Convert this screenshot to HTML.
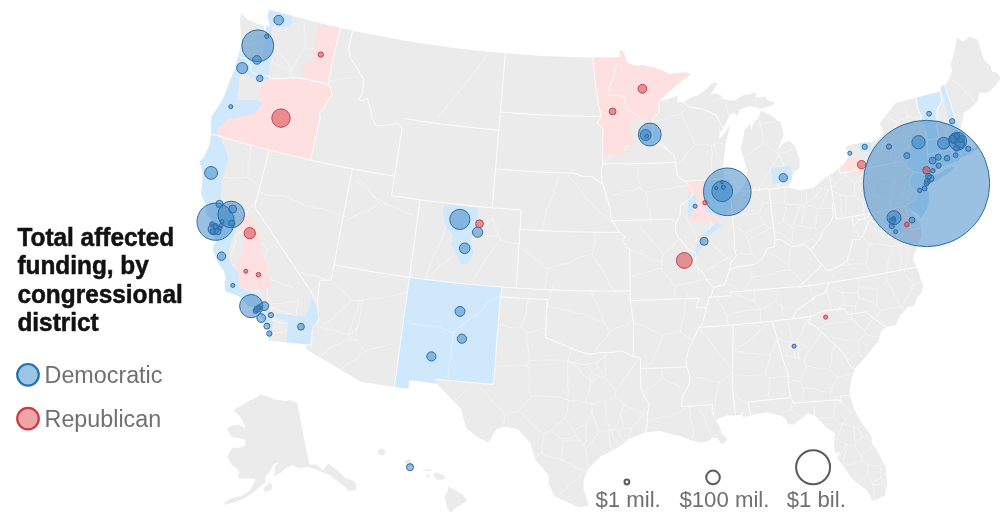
<!DOCTYPE html>
<html lang="en"><head><meta charset="utf-8"><title>Total affected funding, by congressional district</title>
<style>
html,body{margin:0;padding:0;background:#fff}
body{width:1000px;height:523px;position:relative;overflow:hidden;font-family:"Liberation Sans",Arial,Helvetica,sans-serif}
svg{position:absolute;left:0;top:0}
.t{position:absolute;left:17.4px;top:222.9px;font-weight:700;font-size:24.4px;line-height:26.4px;color:#121212;letter-spacing:0;white-space:nowrap;-webkit-text-stroke:0.5px #121212;transform:scale(1,1.075);transform-origin:0 0}
.lg{position:absolute;left:44.6px;font-size:23.3px;line-height:26px;color:#707070;white-space:nowrap}
.sc{position:absolute;font-size:22.2px;line-height:24px;color:#707070;white-space:nowrap;top:488px}
</style></head><body>
<svg width="1000" height="523" viewBox="0 0 1000 523">
<path d="M241.1,13.5 L249,20.2 L257.4,23.7 L263.7,25.5 L264.4,30.1 L264.1,36.1 L264.4,42.2 L266.6,36.8 L269.7,30.7 L269.4,24.6 L268.8,19.4 L270.8,15 L269,9.5 L278.3,12.2 L290.7,15.6 L303.2,18.8 L315.6,22 L328.2,25 L340.7,27.9 L353.3,30.7 L365.9,33.3 L378.5,35.8 L391.2,38.1 L403.9,40.4 L416.6,42.4 L429.3,44.4 L442,46.2 L454.8,47.9 L467.6,49.5 L480.4,50.9 L493.2,52.2 L506,53.3 L518.8,54.3 L531.7,55.2 L544.5,56 L557.4,56.6 L570.3,57 L583.1,57.4 L596,57.6 L608.9,57.7 L619.8,57.6 L619.8,50.3 L623.6,51.4 L625.7,59.5 L627,62.9 L637.4,65.9 L642.6,64.9 L654.4,67.9 L660.9,70 L669,74 L677.4,73 L687.2,72.4 L690.6,74.5 L683.3,79.4 L674.9,86.6 L666.4,94.4 L660.8,99.3 L662.2,100.8 L672.7,97.4 L678,95.2 L677,102 L683.7,102.2 L691.4,97.3 L698,95.3 L703,91.6 L706.8,88.4 L711.7,83.8 L715.6,82.5 L717.6,83.3 L712.4,91.8 L709.4,96.5 L712.5,93.8 L716.5,93.4 L720.6,95 L723.7,99.6 L729.1,100.1 L734,101.1 L742.4,95.4 L748.7,94.5 L755.8,92 L756.4,97.2 L761.2,97.6 L764.4,96.2 L768.3,100.6 L775.4,102.6 L771.7,106 L760.9,108.9 L750,106.1 L740.2,109.6 L736.2,116.9 L734.4,112.2 L729.8,114.6 L727,120.7 L723.5,127.8 L719.9,133 L719,139.3 L725.3,132.5 L730.7,123.6 L728.2,133.2 L726.1,141.2 L724.5,154 L722.9,168.1 L725.4,181.2 L729.1,190.8 L733.8,194.9 L739.4,192.4 L744.3,184.5 L746.9,178.3 L747.2,170.9 L744.9,162.3 L740.7,148.6 L743.6,135.6 L744.8,129.6 L750.5,123.2 L751.4,131.5 L753.8,121.8 L758.2,118.4 L761,110.6 L770.1,115 L780.7,122.4 L783.7,134.8 L777.4,150.3 L783.5,143.6 L789.4,140.5 L795.2,146.9 L799.7,160.1 L799.7,167.9 L794.6,172.6 L792.6,174.2 L792,179.8 L788.3,187.2 L800,190.6 L814.1,187.5 L823,179.2 L834.8,171.7 L844.8,162.7 L849.1,154.4 L845.7,147.5 L852.9,144 L865.7,143.7 L875.2,141 L880,136.6 L883.8,134.3 L882.4,127.6 L879.4,123.6 L885.5,116 L895.3,102.9 L915.9,97.8 L940.5,91.6 L940.6,86.8 L944.6,84.7 L947.7,81.9 L951.2,73.9 L952.1,69.6 L950.2,65.1 L952.3,60.1 L957.2,37.8 L960.4,40.1 L962.9,41.8 L969.6,36.2 L977.6,39.6 L984.2,60.5 L990.6,65.4 L992.2,71.4 L996.8,72.4 L1001.1,78.3 L994.7,86.4 L987.9,92.6 L979.4,93.1 L977.6,101.7 L969.6,109.1 L964.1,112.6 L962.1,121.3 L961,125.2 L960.6,129.3 L964.5,132.7 L960.5,139.9 L967.4,146.1 L970.4,148.9 L977.2,146.4 L973,142.1 L977.3,144.4 L978.5,148.7 L973.9,150.8 L969.6,154.2 L967.3,151.2 L964.9,155.9 L960.2,157.9 L958.9,160.3 L953.8,162.6 L950.5,163.7 L939.5,167.5 L935.8,170.4 L931.5,174.1 L928.9,179.1 L930,177.4 L938.1,173.9 L949.1,167.1 L955,167.2 L947.2,174 L936.8,180.6 L927.9,184.4 L926.2,183.4 L927.6,186.1 L929,195.2 L929.4,200.1 L926.8,208.7 L920.7,218.6 L918.1,213.7 L911.9,210.1 L909.1,207.7 L912.5,212.9 L919,221.5 L921.3,228.1 L921,237.1 L917.1,248 L913.2,256.5 L913.5,260.2 L916.6,267.1 L920.8,279.3 L923.4,285.7 L921.4,293.1 L916.2,299.2 L914.6,305.5 L907.4,307 L899.6,316.6 L895.6,325.3 L886.1,327.1 L881.2,331 L878.2,341.4 L868.7,353 L861.2,362.1 L855.2,368.4 L851.5,379.5 L849.8,389.6 L849.8,395.3 L851.5,401.1 L854.7,410.4 L861.8,423.1 L871.7,436.2 L871.9,443 L877.7,451.8 L886.1,468 L887.2,485.3 L885,495.4 L875.8,499.8 L872.4,500.8 L867.2,490.5 L857.2,483.3 L851,477.4 L846.4,470.3 L841,463.3 L836.8,458.1 L840.4,452.7 L835.1,452.5 L833.8,442.9 L835,433 L827.6,429.1 L820.6,421.3 L814.7,415.2 L806,413.7 L803.1,417.6 L793.8,424.6 L787.6,423.9 L786.5,419.6 L781,415.7 L767.2,412.3 L755.6,414.3 L750.7,415.8 L742.5,417.5 L742.6,409.3 L740.6,415.3 L735.6,415.7 L727.2,415.4 L719.9,417.8 L715.9,420.5 L717.7,422.9 L719.7,427.6 L721.8,433.3 L727.3,438.7 L725,442.7 L720.9,444 L717.9,438.4 L712,437.8 L708.8,440.9 L700.4,442.8 L688.3,439.2 L679.7,435.7 L672.9,434.4 L659.3,431 L645.1,432.6 L629.2,439.1 L619.1,446.9 L600.4,456.6 L588.2,469 L583.8,479.6 L583.6,489.2 L588.7,505.4 L579.8,507.4 L570.2,503.4 L554.7,496.2 L548.9,484.5 L548.4,474.8 L535.3,459.8 L530.1,443.1 L518.1,429.4 L503.2,426.4 L496.2,429.4 L488.5,442.8 L477.1,436.7 L466,427.9 L461,409 L444.4,391.7 L436.5,383.4 L409.3,380.1 L408.2,388.8 L361.3,382 L305.3,348.8 L307.4,344.8 L268.5,340.4 L267.8,333.8 L267.6,327.8 L264.7,322.1 L258.5,313.6 L253.8,312.5 L253.5,307 L248.8,306.3 L242.3,299 L236.8,295.2 L225.2,291.2 L224.7,282 L225.9,277.2 L223.7,270.6 L218.9,264.2 L213,250.4 L213.9,244.6 L217.2,241.4 L214.2,237.6 L210.4,231.4 L210.6,225.3 L211.8,220 L209.8,217 L206,213.8 L206.5,206.8 L200.9,193.9 L202.3,184.1 L202.9,172 L199.6,162.1 L204.6,156.2 L207,150.8 L210,143.6 L211.3,133.8 L211.3,124.6 L211.5,116.7 L218.1,107.3 L224.2,96.9 L229.4,82.3 L234.6,69.7 L238.6,56.7 L239.8,48 L240.9,42.3 L240.7,29.1 L239.6,21.7 L241.1,13.5Z" fill="#ebebeb"/>
<path d="M260.5,394.4 L268.3,397.1 L275.3,399.5 L284.7,400.7 L290.6,400.5 L297,402.4 L309.3,464.5 L316.1,464.4 L322.9,470.5 L328.1,463.5 L337.3,469.9 L345.7,477.9 L354.4,481.3 L356.9,486.8 L356.2,490.4 L352.7,489.9 L348.6,491.3 L345.3,487.4 L340.9,483.8 L335.8,479.7 L329.8,474.7 L323.8,472.7 L314.7,468.9 L308,466.8 L299.7,468.3 L292.5,465.1 L286.1,467.9 L281.4,472.3 L273.7,476.1 L274.6,472.7 L275,466.5 L279.1,462.2 L274.2,463.8 L271.1,469.4 L267.8,474.2 L265,477.6 L265.3,482.4 L258.8,487.7 L251.1,494.2 L243.2,499 L233.1,502.7 L229,503.5 L223.7,504.7 L224.9,502.2 L232.5,497.8 L241.5,496.1 L249.5,490.7 L253.5,484.1 L255.5,478.7 L250.3,478.4 L243.9,478.6 L238,478 L239.3,472.6 L237.4,469 L231.2,464.6 L227.5,457.1 L230.3,450.7 L233,447.7 L238.6,447.8 L244.9,445.9 L245.6,439.8 L239.9,438.4 L232.9,437.3 L230.2,434.8 L226.8,428.5 L231.9,425.4 L239,424.6 L244.1,428 L245.6,426.8 L243.1,422.4 L240.2,416.6 L233.9,411.1 L236.6,407.8 L243.2,404.8 L249.8,400.3 L256.9,397.5Z M271.8,485 L272.6,488.4 L268.6,491.2 L264.2,491.9 L263.9,487.8 L267.5,485.1 L269.9,482.3Z" fill="#ebebeb"/>
<path d="M448.1,486.3 L461.9,494.3 L467.4,500.6 L454.6,508.8 L451.4,512.5 L447.3,508.9 L444.5,496.3 L448.1,490.5Z M432.6,474.2 L436.2,472.2 L445.3,476 L443.5,479.5 L437.1,479.9Z M404,461.2 L409.3,458.7 L415.3,466.4 L407.1,466.4Z M376.7,451.8 L380.9,448.3 L385.4,450.9 L384.5,454.7 L380,455.1Z M421.7,470.3 L431.7,469 L429.8,471.3 L422.6,470.7Z M426.2,475.1 L429.8,474.2 L429.8,477 L427.1,477.4Z" fill="#ebebeb"/>
<path d="M409.5,277.3 L455.9,282.9 L501.7,287.1 L501,296.8 L500.3,296.8 L493.5,384.4 L435.5,379 L436.5,383.4 L409.3,380.1 L408.2,388.8 L394.3,387Z" fill="#cfe8fc"/>
<path d="M734.8,349.8 L736.4,349.4 L738.8,347.6 L746.7,343.1 L754.1,335.3 L758.0,333.0 L758.8,331.5 L762.6,329.0 L767.0,324.8 L768.5,324.3 M735.1,350.8 L741.2,351.9 L744.1,353.0 L755.0,353.4 L758.0,354.5 L765.8,354.1 L770.3,355.3 M770.3,355.3 L771.4,352.5 L772.5,351.3 L776.9,340.0 M733.7,375.0 L751.8,375.6 L754.8,375.0 L760.9,375.4 L765.4,374.3 M765.4,374.3 L765.4,372.8 L769.5,359.8 L770.3,355.3 M770.0,401.2 L768.2,392.0 L769.8,379.5 L769.5,378.0 M769.5,378.0 L772.6,378.0 L777.0,377.1 L778.5,377.3 L781.5,376.3 L783.0,377.1 L787.5,376.3 L792.0,376.6 M736.0,394.6 L740.3,399.0 L748.9,405.1 L751.0,407.3 M765.4,374.3 L769.5,378.0 M407.3,292.2 L404.4,292.6 L403.1,293.9 L401.6,294.4 L400.1,294.0 L397.2,295.4 L392.7,295.3 L391.3,296.1 L388.3,296.4 L385.4,297.4 L380.7,296.8 L379.4,298.0 L377.9,298.3 L373.5,299.1 L371.9,298.3 L363.1,300.4 M331.5,279.7 L341.6,290.7 L344.4,292.2 L348.9,298.3 L350.3,299.1 L351.1,300.4 M351.1,300.4 L354.6,301.0 L359.9,300.5 M363.1,300.4 L359.9,300.5 M393.4,343.5 L389.1,345.0 L384.6,345.4 L380.4,347.3 L377.4,347.5 L374.6,348.6 L371.5,348.5 L367.3,350.6 L364.3,350.9 M364.3,350.9 L354.3,360.0 L347.5,363.4 L341.0,369.8 M351.1,300.4 L348.0,304.0 L337.5,313.2 L335.6,315.8 L320.5,327.0 M359.9,300.5 L355.9,315.3 L354.3,316.4 L353.9,319.5 L352.2,322.2 L352.3,323.8 L350.9,326.6 L348.6,335.5 M348.6,335.5 L347.3,334.4 L344.2,334.1 L339.9,332.3 L330.9,330.1 L329.5,329.2 L324.9,328.7 L320.5,327.0 M349.0,335.9 L351.6,339.2 M349.0,335.9 L357.4,327.2 M351.6,339.2 L355.7,340.1 M357.4,327.2 L356.6,328.8 L355.7,340.1 M348.6,335.5 L349.0,335.9 M318.0,356.2 L319.0,355.0 L322.1,354.3 L324.8,353.0 L326.8,350.3 L331.7,346.7 L337.5,344.8 L342.7,341.7 L345.7,341.0 L348.2,339.2 L350.2,339.7 L351.6,339.2 M363.1,300.4 L361.0,306.2 L361.0,310.9 L360.2,313.8 L360.6,315.5 L359.7,316.8 L359.0,324.5 L357.4,327.2 M364.3,350.9 L359.1,343.3 L355.7,340.1 M632.1,319.6 L635.2,323.2 L642.7,325.2 L651.9,330.4 L653.6,330.5 L657.4,333.0 L662.9,335.3 M650.7,364.4 L653.0,360.5 L653.6,357.5 L657.1,350.8 L657.8,347.8 L659.9,343.8 L660.5,340.8 L662.9,335.3 M691.4,339.6 L683.9,334.6 L680.5,331.4 M680.5,331.4 L681.3,323.9 L684.4,313.7 L684.7,310.7 L683.9,307.6 L684.5,304.6 L686.0,301.8 L686.1,298.8 L687.2,297.4 L687.4,294.4 M662.9,335.3 L666.1,334.4 L667.8,334.6 L669.3,333.7 L675.8,332.8 L678.7,331.0 L680.5,331.4 M247.7,177.5 L243.1,177.4 L240.0,178.2 L237.0,177.7 L230.8,177.9 L224.7,177.0 M247.7,177.5 L248.1,174.4 L247.8,171.3 L248.3,169.8 L247.9,163.7 L249.7,159.2 L250.3,156.2 L249.9,151.6 L250.5,150.1 L250.4,143.9 M224.7,177.0 L221.5,173.5 L220.7,170.5 L217.3,165.4 L214.6,156.5 M226.8,137.4 L224.0,140.9 L223.2,144.1 L220.3,147.6 L217.0,152.7 L216.6,154.2 L214.6,156.5 M206.0,154.1 L214.6,156.5 M224.7,177.0 L222.0,178.7 L219.0,184.4 L214.2,188.5 L211.2,192.2 M211.2,192.2 L208.3,193.2 L206.7,193.0 L202.2,193.8 M247.7,177.5 L250.7,178.7 L252.5,181.4 L257.9,184.7 L260.2,186.9 M306.7,337.4 L298.2,328.4 M298.2,328.4 L296.8,324.6 M296.8,324.6 L297.2,320.9 L296.7,317.4 M299.0,297.1 L298.5,300.5 M298.5,300.5 L298.7,302.1 L297.0,306.6 L296.2,315.8 L296.7,317.4 M213.3,250.4 L214.7,246.1 L216.5,243.5 M210.9,231.9 L212.7,234.4 M263.1,262.6 L263.8,259.5 L268.4,249.6 M263.1,262.6 L261.5,262.7 L256.9,264.4 L253.8,264.8 L250.6,264.1 L247.5,264.4 L242.7,263.8 L230.3,265.5 M268.4,249.6 L266.8,249.0 L260.5,241.9 L254.5,236.8 L250.4,234.4 L245.9,229.9 M230.3,265.5 L231.3,259.4 L230.8,257.8 L232.0,254.9 L231.7,253.3 L232.6,248.8 L235.7,241.5 L235.6,235.3 M235.6,235.3 L238.4,233.4 L245.9,229.9 M279.1,241.2 L273.2,245.9 L270.4,247.2 L268.4,249.6 M268.7,277.5 L268.1,277.0 M268.7,277.5 L273.9,281.0 L277.0,281.4 L285.2,285.4 L289.8,286.3 L294.0,287.9 M268.1,277.0 L266.0,269.6 L263.1,262.6 M223.7,269.6 L227.4,266.7 L230.3,265.5 M240.6,297.0 L243.2,295.1 L246.3,294.8 M253.1,289.8 L246.3,294.8 M253.1,289.8 L257.2,285.3 L264.0,281.5 L268.1,277.0 M217.3,240.6 L222.3,237.0 M235.6,235.3 L233.9,235.2 L227.3,236.7 L222.3,237.0 M268.2,334.7 L269.5,335.8 M268.0,328.0 L268.7,329.6 L272.1,333.3 M269.5,335.8 L272.1,333.3 M268.6,338.7 L269.4,337.4 L269.5,335.8 M298.2,328.4 L296.6,328.4 L292.2,330.0 L287.4,330.1 L280.0,332.9 L276.7,332.4 L272.1,333.3 M268.7,277.5 L268.9,283.9 L267.3,288.5 L267.6,290.1 L267.1,293.3 L267.8,298.1 M253.1,289.8 L259.2,298.8 L260.5,301.7 M267.8,298.1 L264.8,299.2 L263.8,300.6 L260.9,301.8 M298.5,300.5 L293.9,301.7 L290.7,301.7 L284.5,303.4 L271.8,303.6 M296.7,317.4 L291.3,314.0 L288.1,313.6 L277.9,309.6 L271.8,307.9 M271.8,303.6 L271.8,307.9 M267.8,298.1 L268.1,298.9 M271.8,303.6 L268.1,298.9 M274.1,320.3 L280.0,322.6 L289.1,324.1 L290.7,323.7 L296.8,324.6 M274.1,320.3 L272.6,313.9 L271.4,312.6 L270.7,309.4 M270.7,309.4 L271.8,307.9 M211.2,192.2 L213.3,196.3 L215.9,199.9 L218.9,203.3 L222.9,205.9 L224.4,208.6 M212.3,219.7 L213.8,219.1 L217.4,216.1 L219.1,216.0 L221.8,214.5 L222.9,213.2 M222.9,213.2 L224.4,208.6 M257.0,200.3 L254.5,202.2 L247.1,212.0 M224.4,208.6 L227.3,209.6 L233.4,210.3 L237.8,211.9 L242.6,211.2 L247.1,212.0 M245.9,229.9 L245.6,225.3 L246.0,222.3 M247.1,212.0 L247.3,215.5 L246.5,217.2 L246.0,222.3 M221.1,226.1 L216.4,224.2 M221.1,226.1 L220.9,228.1 L219.9,229.8 M219.9,229.8 L218.3,229.1 L213.0,228.7 M213.0,228.7 L213.9,225.4 L215.2,224.2 M215.2,224.2 L216.4,224.2 M235.6,235.3 L231.2,230.6 L227.2,227.7 L224.3,223.8 M224.3,223.8 L221.1,226.1 M222.3,237.0 L221.4,232.5 L219.9,229.8 M211.6,229.7 L213.0,228.7 M212.3,219.7 L215.2,224.2 M222.9,213.2 L222.9,214.5 M222.9,214.5 L222.5,216.2 L219.9,218.5 L216.4,224.2 M257.8,313.2 L259.1,313.0 M259.1,313.0 L261.0,313.6 L262.5,314.9 M262.5,314.9 L261.6,316.3 L261.8,318.0 M265.1,322.6 L266.5,323.2 M274.1,320.3 L270.6,320.9 M270.6,320.9 L268.8,321.0 L266.5,323.2 M224.4,222.9 L231.1,222.7 L232.7,222.0 L234.4,222.0 M224.4,222.9 L223.8,221.4 L224.0,219.8 M224.0,219.8 L227.1,219.6 L230.1,220.2 L234.4,222.0 M224.3,223.8 L224.4,222.9 M246.0,222.3 L239.4,222.5 L234.4,222.0 M222.9,214.5 L224.0,219.8 M262.5,314.9 L264.4,313.5 M259.1,313.0 L261.0,310.7 M261.0,310.7 L264.4,313.5 M270.6,320.9 L265.7,313.1 M265.7,313.1 L264.4,313.5 M257.8,313.2 L257.2,311.7 M257.2,311.7 L255.3,309.8 M254.2,306.5 L254.6,304.9 M246.3,294.8 L251.3,299.3 M254.6,304.9 L251.3,299.3 M260.5,301.7 L257.0,301.5 M251.3,299.3 L257.0,301.5 M264.2,309.6 L266.4,311.1 M264.2,309.6 L263.6,306.2 M265.0,305.1 L267.9,310.1 M265.0,305.1 L263.6,306.2 M267.9,310.1 L266.4,311.1 M261.0,310.7 L261.2,309.7 M261.2,309.7 L264.2,309.6 M265.7,313.1 L266.4,311.1 M268.1,298.9 L265.0,305.1 M270.7,309.4 L267.9,310.1 M262.1,306.2 L261.5,306.8 M262.1,306.2 L260.6,303.3 M261.5,306.8 L258.5,305.0 M260.6,303.3 L258.5,305.0 M260.9,301.8 L260.6,303.3 M263.6,306.2 L262.1,306.2 M257.0,301.5 L258.2,305.2 M260.6,308.7 L260.9,307.6 M260.6,308.7 L259.2,308.7 M260.9,307.6 L257.9,305.5 M259.2,308.7 L257.4,307.5 M257.4,307.5 L257.2,306.0 M257.2,306.0 L257.9,305.5 M261.5,306.8 L260.9,307.6 M261.2,309.7 L260.6,308.7 M257.2,311.7 L259.2,308.7 M255.3,309.8 L257.4,307.5 M254.6,304.9 L257.2,306.0 M519.5,244.3 L518.1,243.7 L513.5,243.7 L507.8,241.6 L500.5,239.9 M500.5,239.9 L497.4,243.3 L495.9,245.9 L493.6,248.0 L490.7,253.3 L486.7,257.8 L485.2,260.5 L483.0,262.5 L478.6,272.4 L477.2,273.3 L474.6,276.9 L473.4,279.8 L471.3,282.0 M424.6,279.1 L429.0,267.7 L429.4,264.6 L432.7,259.3 L432.7,257.7 L434.5,253.4 L436.5,251.0 L437.4,248.1 L443.8,235.8 L444.4,231.1 L447.1,222.4 M451.3,204.6 L449.2,213.5 L448.8,218.1 L447.1,222.4 M447.1,222.4 L450.1,223.2 L452.6,225.1 L455.5,226.1 L457.9,228.1 L461.2,228.3 L462.3,229.6 L469.1,233.0 M491.4,214.6 L493.4,220.3 M469.1,233.0 L477.0,228.3 L480.1,227.8 L482.8,226.4 L491.7,220.4 L493.4,220.3 M500.5,239.9 L499.6,236.9 L498.4,235.8 M498.4,235.8 L498.2,234.2 L496.7,231.2 L495.4,229.9 L494.0,227.0 L494.0,223.5 L493.4,222.0 L493.4,220.3 M465.0,244.2 L472.7,239.2 L474.2,238.7 L475.9,238.8 L477.1,237.8 L478.8,237.7 L480.0,236.7 M465.0,244.2 L469.4,239.9 L471.9,236.0 M471.9,236.0 L473.5,236.6 L475.1,236.0 L480.0,236.7 M425.2,279.4 L426.7,278.7 L432.4,273.7 L439.6,265.9 L451.0,258.1 L459.9,247.6 L465.0,244.2 M498.4,235.8 L490.7,236.2 L489.1,235.5 L486.1,236.3 L484.5,235.9 L480.0,236.7 M469.1,233.0 L471.9,236.0 M939.2,166.4 L939.8,163.3 M931.1,161.0 L934.0,161.6 L936.8,162.9 L939.8,163.3 M947.5,164.5 L945.9,161.9 L945.4,158.9 M945.4,158.9 L939.8,163.3 M943.9,152.4 L944.1,155.6 L945.3,156.8 L945.6,158.3 M945.6,158.3 L950.1,158.1 L951.6,157.4 M945.4,158.9 L945.6,158.3 M790.5,410.0 L787.9,411.5 L786.1,411.5 L783.4,412.7 L781.1,414.7 M790.5,410.0 L797.4,413.4 L799.5,415.8 L802.2,417.3 M790.5,410.0 L792.1,402.5 M815.1,415.0 L814.2,410.5 L814.7,405.9 M834.5,439.5 L837.4,438.2 M838.4,459.6 L838.7,458.0 L842.5,452.8 L843.2,449.6 L844.5,448.4 L844.6,446.7 L846.2,443.9 M837.4,438.2 L842.7,442.8 L846.2,443.9 M843.3,465.1 L844.3,456.0 L847.0,447.2 L846.6,444.1 M885.4,491.3 L885.0,488.1 L883.8,485.2 M885.5,484.9 L883.8,485.2 M858.8,483.0 L864.4,477.7 L866.9,476.0 M861.9,459.8 L853.4,463.6 L848.8,464.3 L844.6,466.4 M861.9,459.8 L865.8,463.1 L867.7,466.1 M866.9,476.0 L867.2,472.7 L868.4,469.4 L867.7,466.1 M819.2,418.6 L833.5,417.3 M835.6,395.3 L835.9,396.8 L835.4,398.3 M833.5,417.3 L834.4,415.8 L833.7,412.5 L835.0,407.8 L835.4,398.3 M837.4,438.2 L841.8,425.6 L842.0,423.9 M833.5,417.3 L837.1,420.2 L838.9,422.8 L840.1,423.8 L842.0,423.9 M874.2,500.3 L873.6,494.3 L874.3,489.7 L873.4,486.7 L873.6,485.2 M883.8,485.2 L881.9,483.5 M881.9,483.5 L878.7,484.7 L875.2,484.5 L873.6,485.2 M866.9,476.0 L870.4,479.8 L872.2,482.7 M873.6,485.2 L872.2,482.7 M835.4,398.3 L838.7,401.5 L845.0,406.1 L851.0,413.3 M842.0,423.9 L843.6,423.6 M843.6,423.6 L844.6,422.3 L846.5,417.9 L849.1,415.8 L851.0,413.3 M851.0,413.3 L854.4,410.4 M861.9,459.8 L862.1,456.3 M846.6,444.1 L848.1,444.8 L851.5,444.9 L854.6,446.0 M854.6,446.0 L857.6,449.8 L858.1,451.4 L862.1,456.3 M879.6,465.4 L876.2,465.7 L871.1,465.0 L867.7,466.1 M883.4,463.0 L879.6,465.4 M862.1,456.3 L862.3,454.4 L871.3,448.0 L872.9,445.3 M880.7,468.0 L880.7,477.8 M880.7,468.0 L883.2,470.0 L884.1,473.1 L885.8,475.6 M880.7,477.8 L883.9,480.3 M885.7,479.5 L883.9,480.3 M879.6,465.4 L880.7,468.0 M872.2,482.7 L873.2,481.2 L878.1,479.7 L880.7,477.8 M881.9,483.5 L883.9,480.3 M853.9,427.5 L855.8,426.7 L857.8,427.2 M853.9,427.5 L855.4,443.5 M857.8,427.2 L859.5,430.0 L861.7,437.6 M855.4,443.5 L861.7,437.6 M843.6,423.6 L846.2,425.5 L851.0,426.2 L853.9,427.5 M863.5,425.5 L857.8,427.2 M854.6,446.0 L855.4,443.5 M871.3,436.1 L866.5,436.4 L861.7,437.6 M830.6,392.1 L822.7,391.4 L813.6,388.6 L808.8,388.3 L805.8,387.4 L804.1,387.7 M830.6,392.1 L832.0,389.3 L832.5,386.1 L835.5,382.3 L837.1,377.9 M837.1,377.9 L834.3,373.8 L832.8,372.9 L829.3,369.4 M829.3,369.4 L824.7,368.7 L820.0,369.1 L811.0,366.6 L806.4,366.2 M806.4,366.2 L804.9,369.1 L804.3,372.5 L802.5,375.3 L801.0,380.0 L799.8,381.3 M799.8,381.3 L801.6,383.8 L802.0,385.4 L804.1,387.7 M802.1,401.1 L802.8,399.7 L802.6,398.1 L803.1,396.7 L802.7,395.1 L804.1,387.7 M830.9,399.6 L830.7,396.6 L830.1,395.2 L830.6,392.1 M853.1,373.8 L851.6,373.7 L847.2,374.6 L845.8,375.5 L838.4,376.8 L837.1,377.9 M789.4,382.5 L793.6,380.4 L796.8,381.4 L799.8,381.3 M792.1,341.3 L794.3,342.3 M792.1,341.3 L789.3,342.6 M794.3,342.3 L794.1,345.6 L793.3,347.3 L794.1,348.9 L794.6,357.2 M789.3,342.6 L789.5,344.2 L788.7,348.7 L786.6,354.5 L786.7,356.1 M794.6,357.2 L793.1,356.8 L791.4,357.1 L788.3,356.0 L786.7,356.1 M778.0,338.4 L782.4,339.7 L785.0,341.1 L788.1,341.5 L789.3,342.6 M788.7,323.6 L788.6,325.1 L789.5,326.5 L789.3,328.0 L790.6,330.8 L790.3,332.4 L791.3,335.3 L791.2,338.4 L792.0,339.7 L792.1,341.3 M783.7,355.8 L786.7,356.1 M794.3,342.3 L796.9,341.0 M796.9,341.0 L798.2,338.3 L801.7,333.4 L805.4,323.3 L809.0,318.4 M829.3,369.4 L831.7,362.1 L831.8,354.4 L834.6,345.6 L834.9,344.1 L834.1,340.9 M809.5,350.4 L807.5,347.8 L804.6,346.4 L799.5,342.6 L797.9,342.1 M809.5,350.4 L809.3,351.9 L806.9,354.1 L804.9,358.2 L804.4,361.3 M797.9,342.1 L798.9,349.7 L798.3,354.3 L799.0,358.9 M804.4,361.3 L799.0,358.9 M796.9,341.0 L797.9,342.1 M822.1,331.5 L817.7,339.5 L813.3,345.6 L813.0,347.2 L809.5,350.4 M806.4,366.2 L805.2,364.8 L804.4,361.3 M794.6,357.2 L797.7,357.8 L799.0,358.9 M352.5,77.3 L348.2,78.5 L346.5,77.9 L345.0,78.0 L342.2,79.3 L333.3,80.5 L329.1,82.6 L326.1,83.1 L323.0,82.5 L321.5,83.0 M731.3,259.7 L728.5,258.3 M728.5,258.3 L722.8,260.4 L718.9,262.8 L715.5,265.8 L711.2,267.3 L708.8,269.3 L706.0,270.3 M725.0,181.3 L724.0,185.7 M727.4,187.1 L727.6,188.8 M724.0,185.7 L724.5,188.1 M727.6,188.8 L724.7,188.3 M724.5,188.1 L721.9,189.7 L720.9,191.0 L714.2,194.8 L711.3,195.8 L707.6,198.6 L706.0,198.8 M724.0,185.7 L719.5,186.9 L713.8,189.8 L712.2,189.8 L709.3,191.0 L702.9,191.2 M706.0,198.8 L702.9,191.2 M702.9,191.2 L699.7,182.8 M724.8,189.0 L725.8,191.1 M724.7,188.3 L724.8,189.0 M725.8,191.1 L728.4,192.3 M710.6,204.5 L708.3,202.3 L706.9,201.7 M710.6,204.5 L716.4,209.9 M706.9,201.7 L701.4,204.7 L699.2,206.9 L697.5,207.1 L693.5,209.5 L685.8,217.2 M716.4,209.9 L715.0,214.3 L713.2,217.1 L707.4,235.0 L707.1,238.2 L706.2,239.5 M685.8,217.2 L688.8,222.5 L689.9,223.6 L694.9,234.7 L697.5,238.4 M706.2,239.5 L697.5,238.4 M722.5,193.8 L724.4,190.8 L724.8,189.0 M722.5,193.8 L717.5,197.8 L715.5,200.4 L713.6,200.7 L710.6,204.5 M706.0,198.8 L706.9,201.7 M684.3,216.9 L685.8,217.2 M727.4,211.1 L716.4,209.9 M728.5,258.3 L725.9,256.6 L725.0,255.2 L720.1,251.5 L716.9,248.3 L715.1,247.9 L714.5,246.3 L711.3,243.0 L709.7,242.5 L706.2,239.5 M694.3,241.7 L695.5,240.9 L697.5,238.4 M724.6,193.1 L725.5,192.3 M724.6,193.1 L727.5,195.4 M725.5,192.3 L727.6,194.9 M727.5,195.4 L727.6,194.9 M722.5,193.8 L724.6,193.1 M725.8,191.1 L725.5,192.3 M728.8,209.4 L728.2,201.6 L727.4,200.1 L727.5,195.4 M728.4,192.3 L727.6,194.9 M756.1,258.4 L754.4,255.8 L752.0,254.0 M738.5,254.1 L741.5,253.3 L743.0,254.1 L749.0,254.8 L752.0,254.0 M744.2,233.3 L746.3,235.8 L748.1,240.2 M744.2,233.3 L747.1,232.5 L753.7,228.8 L758.1,227.5 L764.8,224.0 M748.1,240.2 L753.5,237.5 L755.9,235.4 L764.3,231.9 L769.3,228.3 L770.9,228.0 M764.8,224.0 L770.9,228.0 M737.7,226.8 L739.6,229.3 L742.2,231.0 L744.2,233.3 M752.0,254.0 L750.0,249.6 L750.0,247.9 L748.7,245.0 L748.1,240.2 M775.2,229.3 L772.5,228.0 L770.9,228.0 M733.2,217.0 L737.8,210.6 L739.5,206.2 L739.9,203.0 L742.2,198.9 L743.1,194.1 L746.4,190.6 M733.2,217.0 L736.3,216.3 L737.7,215.4 L740.9,215.6 L743.8,214.0 L745.5,214.6 L747.0,214.1 L753.3,214.0 L757.9,213.3 M751.0,189.7 L758.0,197.9 L762.9,201.8 L763.3,203.4 M757.9,213.3 L760.2,210.9 L760.9,207.6 L763.3,203.4 M764.8,224.0 L761.7,220.3 L761.4,218.6 L757.9,213.3 M769.2,202.6 L764.7,202.8 L763.3,203.4 M638.5,166.6 L637.7,175.8 L638.8,181.7 L640.5,184.5 L639.9,186.1 L640.3,187.6 M687.5,186.2 L677.0,186.7 L672.7,188.8 L656.2,190.0 L646.0,192.6 M646.0,192.6 L643.9,190.4 L641.1,189.0 L640.3,187.6 M612.8,195.2 L618.8,194.3 L622.7,191.8 L625.5,190.8 L630.3,190.9 L640.3,187.6 M651.6,225.2 L650.8,222.3 L650.6,216.3 L649.6,210.3 L647.4,206.1 L646.6,203.1 L647.4,198.5 L646.0,192.6 M521.7,248.8 L527.8,253.2 L530.7,254.3 L533.9,257.6 L534.6,259.1 L536.2,259.4 L540.2,261.7 L544.1,266.4 L547.7,269.1 M596.2,231.9 L595.2,233.2 L595.3,241.0 L592.2,254.1 M592.2,254.1 L578.9,257.3 L576.1,258.6 L573.7,260.9 L570.8,261.8 L566.7,263.9 L563.5,263.8 L547.7,269.1 M544.8,288.6 L547.7,269.1 M616.2,292.2 L613.3,288.8 L611.7,288.0 L608.1,281.4 L607.3,278.3 L602.6,270.6 L600.8,266.4 L599.8,265.3 L598.1,264.6 L595.5,259.1 L592.5,255.7 L592.2,254.1 M790.6,247.5 L790.9,250.7 L789.1,254.9 L789.4,256.5 L788.5,264.0 M788.5,264.0 L787.2,263.1 L783.9,262.5 L777.0,256.6 L771.2,254.2 M790.6,270.2 L796.4,275.0 L803.8,284.6 L805.2,285.3 M790.6,270.2 L781.4,270.4 L778.6,271.8 L777.0,271.2 L774.2,272.9 L767.0,275.3 L762.4,275.4 L752.0,277.4 M752.0,277.4 L748.3,284.2 L744.7,289.1 M788.5,264.0 L789.0,267.2 L790.6,270.2 M749.5,268.7 L751.8,274.4 L752.0,277.4 M725.4,282.4 L728.1,283.7 L729.2,284.8 L733.5,286.4 L734.4,287.8 L738.2,290.2 M646.0,391.7 L647.7,389.2 L655.4,384.1 L658.2,380.5 L662.4,378.2 M662.4,378.2 L662.8,376.7 L661.8,372.3 L662.0,370.8 M662.4,378.2 L667.5,381.5 L672.0,382.6 L678.6,386.4 L681.6,387.0 L682.9,387.8 M691.9,439.0 L693.7,432.8 L691.4,424.0 L691.5,419.5 L690.1,416.5 L690.4,410.5 L688.9,409.1 L689.4,407.6 M712.1,436.9 L712.0,435.3 L710.0,432.9 L706.8,424.5 L705.8,423.3 L703.8,416.0 L701.5,413.7 L699.6,409.6 M648.0,421.8 L655.0,419.0 L663.7,416.4 L665.2,416.1 L668.6,416.8 L671.4,415.9 L678.5,413.0 L683.6,409.1 L685.1,409.0 L687.9,407.6 L689.4,407.6 M975.6,103.3 L970.2,96.0 L968.7,95.4 L965.6,92.1 L962.1,87.1 L957.4,83.3 L955.9,82.7 L950.6,77.4 M863.4,212.5 L865.9,221.1 M901.2,242.9 L898.9,239.0 L896.1,232.0 L895.6,229.0 M886.2,223.5 L887.7,222.7 L891.0,222.3 M891.0,222.3 L892.5,223.4 L893.4,225.0 M886.6,211.7 L887.6,209.8 M886.6,211.7 L888.3,214.7 L893.2,219.5 M889.9,209.9 L902.3,220.2 M902.3,220.2 L894.1,219.7 M893.2,219.5 L894.1,219.7 M881.7,219.4 L883.4,218.6 L886.6,211.7 M891.0,222.3 L893.2,219.5 M909.5,222.2 L902.3,220.2 M893.4,225.0 L894.1,219.7 M962.3,141.5 L961.1,142.5 M961.6,130.6 L961.6,132.2 L960.4,133.4 L958.7,139.1 M961.1,142.5 L958.7,139.1 M953.1,146.7 L954.4,145.3 L956.4,145.1 L958.0,144.0 M958.0,144.0 L960.8,143.7 M960.8,143.7 L961.1,145.3 L962.7,147.8 L963.8,150.7 L965.3,151.5 L965.8,153.0 M956.9,139.9 L958.0,144.0 M956.9,139.9 L947.8,139.3 M947.8,139.3 L951.0,142.6 L953.1,146.7 M956.9,139.9 L958.7,139.1 M961.1,142.5 L960.8,143.7 M937.9,150.5 L941.8,145.2 L947.5,139.1 M937.9,150.5 L936.3,147.9 L931.0,144.8 L927.5,139.7 M947.5,139.1 L947.2,137.6 M764.0,142.4 L762.4,136.6 L761.5,129.0 L760.7,127.6 L760.3,124.6 M778.6,154.1 L776.5,151.8 L767.0,146.1 L764.0,142.4 M795.7,148.4 L788.5,150.5 L785.9,152.3 L784.4,152.5 L783.1,153.3 L781.3,152.6 L778.6,154.1 M760.3,124.6 L764.5,123.1 L767.6,122.9 L777.8,120.4 M753.8,124.2 L759.8,124.3 M728.4,116.0 L725.7,101.0 M759.8,124.3 L758.9,118.3 M757.0,106.3 L757.0,103.3 L756.2,101.9 L755.3,95.9 L755.5,92.8 M743.7,158.1 L746.9,154.8 L749.6,153.4 L754.2,149.5 L755.9,149.2 L759.4,146.3 L760.1,144.8 L761.5,144.1 L762.3,142.7 L764.0,142.4 M760.3,124.6 L759.8,124.3 M710.8,101.7 L715.2,100.7 L716.5,99.6 L718.1,99.7 L722.4,98.3 M778.6,154.1 L778.5,155.0 M778.5,155.0 L778.0,156.5 L776.0,158.8 L774.0,162.9 L771.4,166.7 L769.8,171.0 L765.8,175.7 L762.9,181.1 L762.7,182.7 L759.6,186.2 L759.1,191.1 M790.3,180.8 L785.6,176.9 M777.1,187.5 L779.8,183.8 L781.7,179.5 L783.4,178.9 L785.6,176.9 M778.5,155.0 L783.2,163.3 M783.2,163.3 L783.0,165.1 L785.8,176.5 M791.4,176.3 L790.0,175.6 M795.5,171.5 L789.6,169.6 M789.6,169.6 L789.5,173.6 L790.0,175.6 M785.8,176.5 L790.0,175.6 M783.2,163.3 L786.0,166.9 L789.6,169.6 M650.4,67.1 L649.2,71.5 L649.4,73.1 L646.4,78.5 L646.1,79.9 L646.6,81.6 L646.2,83.1 L644.7,84.2 L643.9,88.7 M668.3,103.5 L665.0,100.3 M661.2,97.8 L660.2,96.6 L657.3,95.6 L653.7,92.8 L648.3,90.2 L647.4,88.7 L643.9,88.7 M598.6,73.9 L601.2,75.4 L602.8,75.4 L608.1,78.3 L611.4,78.3 L614.3,79.0 L628.6,87.6 L629.7,89.0 L635.6,90.4 L638.3,91.6 M638.3,91.6 L639.5,90.5 L643.9,88.7 M603.4,162.2 L606.2,160.9 L613.4,155.4 L614.2,153.9 L618.6,149.6 L624.4,147.3 L629.7,144.3 L630.7,143.1 L635.0,141.3 L638.1,137.8 L644.1,133.2 M600.3,141.1 L604.6,136.7 L606.0,135.9 L606.5,134.4 L612.6,127.6 L617.0,121.5 L618.3,120.5 L621.7,113.5 L625.2,110.5 L627.4,106.5 L630.0,104.6 L630.6,103.2 L633.9,100.0 L635.1,97.1 M644.1,133.2 L642.2,122.5 L638.7,112.2 L637.7,106.1 L635.1,97.1 M638.3,91.6 L637.0,93.2 L636.4,95.2 M636.4,95.2 L635.1,97.1 M665.9,148.8 L665.4,147.2 L663.6,144.8 L660.0,141.7 L658.6,138.9 L657.0,138.2 L654.3,134.5 L652.0,132.4 L650.4,129.7 M665.9,148.8 L660.1,146.0 L659.1,144.7 L656.3,143.0 L649.8,135.8 L645.4,133.8 M645.4,133.8 L648.5,129.4 M675.9,160.1 L673.7,158.0 M670.7,154.7 L665.9,148.8 M636.4,95.2 L637.1,98.2 L639.1,100.8 L641.3,106.6 L643.5,110.7 L646.0,119.7 L645.8,123.1 L649.0,126.9 M644.1,133.2 L645.4,133.8 M713.0,415.2 L714.4,410.9 L715.5,397.1 L716.3,395.8 L717.2,389.8 L718.5,387.0 L718.5,385.5 L719.4,384.2 L720.0,381.2 M720.0,381.2 L723.2,380.5 L727.0,377.8 L731.3,373.2 M696.2,377.5 L702.2,378.2 L706.5,379.8 L713.9,381.5 L715.5,381.3 L718.4,382.0 L720.0,381.2 M699.7,329.6 L701.3,332.1 L704.8,335.2 L706.4,337.7 L709.0,339.6 L710.2,342.4 L712.5,344.4 L719.6,354.1 L723.2,357.1 L723.5,358.7 L725.8,360.7 L731.0,370.0 M674.7,296.9 L674.2,293.8 L675.6,286.4 M675.6,286.4 L678.5,284.9 L681.8,285.0 L698.8,280.6 M698.8,280.6 L700.4,280.7 L703.3,279.7 L706.3,280.0 L710.7,278.7 M698.9,267.1 L698.1,271.6 L699.6,279.1 L698.8,280.6 M632.7,275.8 L635.6,275.0 L638.3,273.4 L642.9,273.2 L653.1,270.5 L657.2,268.5 L658.8,268.7 L661.7,267.8 M623.3,246.1 L624.5,247.2 L627.4,248.1 L628.5,249.1 L632.6,251.0 L644.2,254.6 L647.9,257.2 L649.0,258.5 L651.7,259.9 L654.5,260.9 L657.8,260.8 L662.1,262.2 M661.7,267.8 L662.4,266.0 L662.1,262.2 M675.6,286.4 L671.7,281.6 L670.3,278.8 L667.5,277.0 L661.9,269.6 L661.7,267.8 M680.8,238.4 L679.3,239.1 L675.9,242.4 L671.9,247.2 L670.4,247.9 L663.4,254.2 M663.4,254.2 L661.9,251.5 L652.4,241.8 L649.0,236.8 L647.6,236.0 L647.0,234.6 L642.7,230.3 L640.2,226.6 M694.3,249.9 L691.9,244.3 M662.1,262.2 L662.3,257.3 L663.4,254.2 M489.1,52.3 L487.7,55.0 L482.7,60.6 L481.3,63.3 L479.3,65.5 L478.2,68.5 L476.7,69.2 L474.9,71.6 L473.7,74.5 L470.1,77.4 L468.5,80.0 L465.9,81.8 L464.7,84.6 L461.4,87.7 L460.1,90.5 L454.6,95.8 L452.4,99.8 L447.3,105.3 L446.0,108.0 L441.3,113.9 L438.7,115.7 L438.1,117.2 M567.6,174.2 L568.1,175.7 L569.5,176.5 L571.8,180.5 L573.5,181.0 L575.5,183.2 L577.7,187.3 L579.0,188.2 L584.0,195.8 L587.0,199.2 L590.7,201.9 L593.2,205.7 L594.6,206.5 L597.5,209.9 L604.3,215.9 L606.9,217.6 L611.1,221.8 L614.1,223.2 L615.1,224.3 M617.5,228.2 L619.0,230.9 L620.3,231.8 M541.6,230.1 L543.1,227.4 L543.1,224.2 L544.2,221.4 L544.1,219.8 L544.9,218.5 L545.1,215.4 L546.7,209.6 L549.1,205.7 L550.9,199.9 L553.8,194.5 L554.4,190.0 L556.8,186.1 L556.9,181.4 L558.1,178.6 L558.7,175.6 M347.3,217.7 L341.8,215.0 L337.3,214.5 L336.1,213.3 L331.9,211.5 L326.1,210.1 L323.4,208.6 L314.2,208.0 L311.6,206.1 L306.9,206.1 L301.3,203.9 L291.8,199.0 L288.9,198.4 L284.8,196.1 L277.2,195.6 L273.9,196.1 L271.0,195.2 L265.0,194.5 L259.6,191.6 L258.0,191.5 M326.0,279.3 L324.9,278.0 L318.6,277.3 L314.4,275.8 L309.3,276.0 L306.2,275.4 L303.3,274.5 L300.9,272.7 M325.5,279.6 L321.1,278.6 L314.4,274.7 L309.6,275.0 L304.0,272.8 L300.9,272.6 M953.6,133.8 L949.3,135.6 L946.3,135.7 L938.9,137.3 M923.9,211.2 L916.4,210.3 M916.4,210.3 L915.1,211.1 M922.5,201.8 L917.3,205.5 M922.5,201.8 L922.6,197.0 L920.8,194.1 L920.5,191.0 M917.3,205.5 L916.1,204.5 L915.6,202.8 M910.7,188.9 L918.6,190.0 M920.5,191.0 L918.6,190.0 M928.2,203.9 L925.2,203.9 L922.5,201.8 M916.4,210.3 L917.3,205.5 M927.8,191.2 L926.3,190.9 M926.3,190.9 L925.9,186.1 M920.5,191.0 L926.3,190.9 M916.4,172.4 L918.2,178.3 L918.0,180.1 L920.7,185.6 M918.6,174.1 L919.9,177.0 L920.0,181.7 L921.2,184.6 M920.7,185.6 L921.2,184.6 M924.6,181.1 L922.1,177.1 L918.6,174.1 M918.6,190.0 L919.5,186.8 L920.7,185.6 M924.6,181.1 L923.1,181.9 L921.2,184.6 M449.2,378.5 L448.4,376.9 L448.1,373.8 L449.2,363.3 L451.5,357.6 L451.0,353.0 L451.8,350.1 L451.4,347.0 L453.0,341.1 L452.5,339.6 L453.9,332.2 M502.1,294.0 L500.1,296.3 L497.0,297.2 L496.0,298.3 L492.8,299.2 L491.8,300.3 L488.9,301.5 L488.3,303.1 L485.7,304.7 L482.3,310.1 L476.2,314.5 L475.7,316.2 L471.1,317.7 L467.8,320.8 L466.3,321.3 L465.4,322.5 L457.9,327.6 L453.9,332.2 M406.7,322.4 L409.7,322.5 L412.5,324.0 L421.5,324.6 L424.4,325.7 L439.5,326.5 L442.2,328.8 L452.3,332.4 L453.9,332.2 M902.6,101.2 L907.2,110.9 L907.0,112.4 L908.0,116.8 M908.0,116.8 L914.1,117.7 L922.8,120.9 M922.5,127.4 L920.3,129.5 L917.4,135.0 L907.1,148.3 M907.1,148.3 L912.3,152.1 L917.0,153.3 L926.6,159.0 M929.3,157.7 L926.6,159.0 M908.0,116.8 L899.6,120.2 L897.3,122.3 M886.6,116.4 L894.4,121.1 L897.3,122.3 M896.4,149.5 L892.4,146.7 L891.5,145.2 M896.4,149.5 L895.4,152.4 L895.2,155.4 L896.1,158.5 L895.2,163.0 L895.2,167.5 M862.6,163.5 L865.7,160.1 L870.1,158.2 L872.4,156.3 L876.3,151.5 L881.3,148.1 L884.0,144.3 M862.6,163.5 L863.7,166.3 L863.8,169.4 L865.0,173.8 M884.0,144.3 L888.6,144.5 L891.5,145.2 M907.1,148.3 L902.6,149.4 L896.4,149.5 M897.3,122.3 L895.2,128.3 L894.1,129.6 L894.1,132.9 L893.0,135.9 L891.5,145.2 M877.7,140.1 L880.6,141.4 L884.0,144.3 M849.4,153.6 L862.6,163.5 M929.7,182.9 L928.5,183.3 M927.0,178.1 L927.7,179.0 M930.2,179.1 L927.7,179.0 M927.0,178.1 L928.4,176.7 M930.2,179.1 L931.0,178.1 M928.4,176.7 L931.0,178.1 M933.2,181.1 L931.8,177.9 M929.7,182.9 L929.7,181.8 M930.2,179.1 L930.0,179.8 M931.8,177.9 L931.0,178.1 M929.7,181.8 L930.0,179.8 M928.4,176.7 L927.3,175.3 L927.4,173.6 L925.5,167.5 L925.5,164.1 L924.8,162.6 M924.8,162.6 L921.8,166.2 L918.6,171.6 M924.8,162.6 L926.4,159.9 M926.6,159.0 L926.4,159.9 M927.7,179.5 L926.3,180.6 M927.7,179.5 L927.9,180.2 M927.9,180.2 L926.9,181.7 M926.3,180.6 L926.3,181.4 M926.9,181.7 L926.3,181.4 M926.0,179.9 L926.3,180.6 M927.7,179.0 L927.7,179.5 M930.0,179.8 L927.9,180.2 M929.7,181.8 L927.9,180.2 M928.5,183.3 L926.9,181.7 M933.2,176.3 L937.2,178.3 L938.2,179.5 M941.6,173.0 L944.1,174.6 M926.4,159.9 L926.5,161.7 L927.9,162.7 L928.8,164.0 M931.8,177.9 L933.2,176.3 M920.8,282.0 L913.6,283.9 M903.9,309.7 L901.9,307.4 M913.6,283.9 L912.1,286.7 L912.1,288.4 L910.8,291.1 L902.9,304.4 L902.8,306.1 L901.9,307.4 M913.6,283.9 L907.2,277.3 L905.8,274.4 M859.6,286.6 L859.0,285.1 L858.9,277.5 M859.6,286.6 L862.7,287.9 L877.0,289.0 M887.0,274.3 L886.7,280.6 M877.0,289.0 L879.3,286.8 L881.1,286.4 L882.4,285.4 L886.7,280.6 M901.9,307.4 L900.6,307.0 M886.7,280.6 L887.0,282.2 L890.1,285.9 L894.4,296.0 L895.6,297.2 L899.7,303.9 L900.6,307.0 M900.6,307.0 L897.4,306.8 L894.4,307.7 L889.7,308.1 L880.5,310.4 M875.3,317.8 L878.4,314.5 L880.5,310.4 M877.0,289.0 L876.6,290.6 L877.5,293.8 L876.7,295.4 L876.4,298.6 L876.8,301.8 L876.4,303.3 L877.0,306.5 M877.0,306.5 L880.5,310.4 M807.5,306.2 L809.3,310.3 L809.3,311.9 L811.7,315.9 M826.6,291.1 L832.1,311.8 M843.4,292.4 L842.5,297.0 L843.6,300.1 L843.3,304.7 M843.4,292.4 L849.5,293.0 L855.6,292.7 L857.2,292.1 M843.3,304.7 L855.3,306.2 M857.2,292.1 L859.3,298.0 M859.3,298.0 L855.3,306.2 M836.1,313.2 L838.4,308.9 L840.5,306.5 L843.3,304.7 M831.4,288.8 L834.5,289.3 L838.7,291.7 L843.4,292.4 M859.6,286.6 L858.5,291.0 L857.2,292.1 M855.3,310.8 L855.7,307.8 L855.3,306.2 M877.0,306.5 L873.8,302.7 L859.3,298.0 M771.1,203.3 L774.2,203.7 L775.6,202.7 L777.1,202.5 L781.6,202.8 L784.6,202.4 M784.6,202.4 L784.7,197.8 L785.4,196.3 L784.9,194.8 L784.7,188.7 M832.0,208.6 L827.5,208.1 L825.8,208.7 L824.4,208.5 L822.7,208.9 L819.8,208.1 M830.6,188.9 L828.0,190.3 M819.8,208.1 L820.3,206.7 L821.6,205.6 L823.1,203.0 L823.5,199.9 L828.0,190.3 M816.8,186.2 L822.4,188.9 M828.0,190.3 L826.2,189.4 L822.4,188.9 M805.5,189.9 L806.5,191.4 L806.4,202.5 M822.4,188.9 L818.1,193.1 L816.4,195.8 L811.5,199.2 L810.7,200.7 L806.4,202.5 M800.6,205.4 L794.3,204.4 L786.5,204.4 M800.6,205.4 L796.9,214.1 L795.7,218.6 L794.7,220.0 L794.7,221.6 L792.7,227.6 M786.5,204.4 L785.8,210.7 L784.1,213.6 L783.7,221.5 M792.7,227.6 L787.6,224.1 L785.3,222.0 L783.7,221.5 M784.6,202.4 L786.5,204.4 M776.4,223.6 L781.0,223.0 L783.7,221.5 M793.1,228.0 L791.8,242.3 M774.3,230.6 L776.6,232.5 L781.3,233.7 L784.7,236.7 L788.5,239.1 L791.8,242.3 M793.1,228.0 L792.7,227.6 M801.1,226.3 L802.7,226.0 L808.6,227.8 L816.1,228.5 M801.1,226.3 L802.2,221.8 L803.3,211.0 L804.0,209.6 L803.9,204.9 M816.1,228.5 L815.4,225.3 L816.3,222.1 L816.2,218.9 L817.4,212.5 L816.8,210.9 L817.1,209.3 M817.1,209.3 L814.9,206.9 L810.5,205.6 L808.8,205.6 L806.3,203.9 M803.9,204.9 L806.3,203.9 M800.6,205.4 L803.9,204.9 M793.1,228.0 L796.4,227.5 L799.4,226.1 L801.1,226.3 M819.8,208.1 L817.1,209.3 M806.4,202.5 L806.3,203.9 M813.4,238.5 L812.4,239.7 L810.6,239.7 L804.0,243.5 L800.4,246.4 L798.7,246.6 M816.1,228.5 L816.6,230.2 L817.8,231.4 M791.8,242.3 L792.1,244.0 M609.6,331.8 L618.9,326.9 L623.2,325.4 L624.8,325.4 L630.3,323.0 M609.6,331.8 L606.7,337.2 L601.9,341.2 L599.5,345.0 L598.1,345.9 L595.1,351.2 M603.4,322.3 L601.5,314.8 L599.0,311.0 L598.5,307.9 L594.5,299.6 L593.4,298.4 L591.6,292.6 M603.4,322.3 L600.6,321.0 L597.3,321.4 L592.0,317.8 L584.9,314.9 L582.2,313.2 L575.7,313.3 L571.5,311.4 L568.4,311.2 L567.1,310.3 L559.4,309.2 L558.1,308.2 L554.9,308.1 L553.5,307.4 L551.9,307.4 L547.7,305.3 M547.7,305.3 L548.5,302.4 L548.3,299.1 L549.4,297.9 L550.9,292.0 L552.8,287.8 L553.7,283.3 M609.6,331.8 L607.7,329.2 L607.3,327.5 L603.4,322.3 M543.8,321.5 L544.5,316.9 L545.6,315.7 M546.9,308.2 L547.7,305.3 M304.6,124.3 L295.8,122.3 L294.6,121.1 L293.2,120.6 M294.5,77.3 L294.3,78.9 L293.1,80.0 L290.3,85.4 L286.7,96.8 L283.6,102.1 L282.3,108.0 M282.3,108.0 L286.3,112.5 L287.9,113.1 L289.4,115.8 L292.7,119.0 L293.2,120.6 M293.2,120.6 L290.8,129.3 L288.3,131.6 L287.2,139.1 L286.3,140.4 L286.0,141.9 L280.2,151.0 M256.1,75.5 L261.1,88.2 L263.7,96.8 L264.8,104.4 L266.3,108.7 M253.6,68.4 L252.6,69.5 M249.0,72.3 L246.5,74.1 L243.8,77.8 L240.2,80.6 L238.3,83.0 L235.8,84.7 L233.5,88.9 L230.4,92.2 L224.6,97.1 M212.7,118.6 L217.2,117.7 L221.4,115.7 L228.9,114.7 L231.8,113.8 L239.5,113.6 L240.9,113.0 L244.1,113.5 L249.7,110.7 L252.9,110.8 L255.7,109.7 L263.2,108.4 L266.3,108.7 M254.1,66.9 L253.6,68.4 M282.3,108.0 L279.1,108.9 L271.1,107.8 L267.9,108.0 L266.3,108.7 M911.8,202.3 L913.5,202.2 M840.5,194.5 L846.2,196.3 M840.5,194.5 L840.0,197.5 L840.5,199.1 L841.0,206.7 L840.4,208.3 L840.5,209.8 L841.7,214.4 L841.1,216.0 L841.3,217.5 M845.8,214.7 L846.3,207.1 L845.6,202.4 L846.3,199.4 L846.2,196.3 M833.0,191.0 L834.3,192.2 L836.0,192.6 L838.7,194.4 L840.5,194.5 M863.4,202.8 L860.6,201.0 L854.4,195.4 M863.4,202.8 L863.0,211.8 M854.4,195.4 L847.9,196.5 L846.2,196.3 M855.0,183.2 L849.8,180.0 L848.6,179.0 L847.9,177.4 L845.0,176.1 M855.0,183.2 L858.1,181.8 L863.1,180.6 L864.4,179.2 L865.9,178.6 M865.9,178.6 L865.6,175.6 M845.0,176.1 L844.7,173.1 M832.3,187.5 L839.9,179.7 L845.0,176.1 M854.4,195.4 L854.7,193.9 L854.2,192.3 L855.0,183.2 M873.8,194.3 L872.3,195.1 L863.4,202.8 M873.8,194.3 L874.5,189.4 L873.9,184.5 M873.9,184.5 L871.4,182.2 L865.9,178.6 M880.9,171.1 L881.4,174.1 L882.8,176.8 L882.6,178.4 M882.6,178.4 L880.4,180.5 L877.6,181.8 L873.9,184.5 M891.5,208.3 L890.2,205.4 L890.3,202.2 M873.8,194.3 L876.4,196.3 L880.8,197.8 L882.5,197.8 L889.6,201.1 M889.6,201.1 L890.3,202.2 M882.6,178.4 L884.2,178.1 L892.0,178.7 L894.9,179.9 M889.6,201.1 L891.9,195.2 L892.6,187.4 L895.0,183.1 L894.9,179.9 M909.1,200.2 L908.4,198.4 L908.4,196.8 L910.0,194.0 L910.1,190.8 M909.1,200.2 L902.1,196.4 M902.1,196.4 L904.3,190.7 L905.6,184.7 L910.3,176.8 M910.3,201.5 L909.1,200.2 M890.3,202.2 L892.9,199.9 L898.8,197.1 L902.1,196.4 M894.9,179.9 L900.0,176.6 L904.6,175.4 L905.7,174.2 L907.1,173.7 L909.6,171.8 M960.2,151.3 L954.2,151.4 M873.1,318.3 L869.4,323.2 L868.2,326.0 L866.9,327.0 L865.0,331.1 M852.1,313.0 L851.4,318.9 M865.0,331.1 L859.4,325.9 L858.0,325.3 L855.3,321.4 L851.4,318.9 M817.4,328.1 L821.9,327.0 L826.0,324.6 L833.6,323.4 L834.9,322.6 L841.2,322.5 L847.2,320.9 L848.5,319.9 L851.4,318.9 M858.0,352.1 L858.5,345.8 L858.0,341.1 M858.0,352.1 L860.0,354.4 L863.5,357.1 M878.5,337.4 L877.1,336.6 L869.5,335.7 L865.5,333.6 M865.5,333.6 L863.8,336.2 L858.0,341.1 M847.0,360.0 L849.8,358.7 L852.9,355.3 L858.0,352.1 M832.1,338.2 L835.1,338.8 L841.3,338.5 L844.3,340.1 L850.4,340.9 L851.9,340.3 L855.0,340.4 L858.0,341.1 M865.0,331.1 L865.5,333.6 M783.3,319.5 L782.1,307.6 L781.2,306.1 M795.0,308.2 L790.4,307.5 L785.7,307.9 L781.2,306.1 M728.1,323.9 L727.1,321.0 L727.3,317.9 L726.7,315.0 M716.8,297.7 L718.7,301.9 L723.5,308.0 L724.2,311.1 L726.7,315.0 M761.5,321.9 L760.4,315.9 L760.5,309.9 M726.7,315.0 L728.3,315.2 L731.3,314.3 L732.7,313.0 L734.2,312.5 L738.9,312.6 L743.4,310.8 L749.6,310.2 L751.0,309.4 L755.8,309.9 L758.9,309.4 L760.5,309.9 M754.1,289.3 L754.7,293.8 L754.6,301.3 M777.4,289.1 L777.6,290.6 L776.9,295.1 L776.2,296.6 L775.8,301.1 M775.8,301.1 L770.1,303.6 L767.9,305.9 L765.1,307.2 L763.5,307.3 L761.0,309.2 M761.0,309.2 L754.6,301.3 M734.5,293.8 L743.1,297.1 L744.3,298.2 L754.6,301.3 M813.5,300.2 L813.0,295.6 L811.4,293.0 L811.5,291.4 L809.3,287.3 L809.0,282.7 M781.2,306.1 L780.1,304.5 L778.2,303.9 L775.8,301.1 M760.5,309.9 L761.0,309.2 M503.3,425.4 L503.3,423.8 L504.6,421.1 L504.5,417.7 L505.6,414.9 M453.7,401.3 L464.4,392.6 L466.3,390.3 L466.7,388.7 M479.7,386.8 L482.5,390.4 L486.4,393.1 L491.3,401.0 L505.6,414.9 M643.6,413.8 L632.1,427.5 M643.6,413.8 L638.3,411.1 L629.8,408.0 L626.0,405.4 L624.4,405.3 M624.4,405.3 L623.4,406.6 L620.9,412.7 L620.6,416.1 M632.1,427.5 L627.0,428.6 L623.5,428.5 M620.6,416.1 L622.2,419.0 L622.0,420.7 L623.0,422.1 L622.8,425.4 L623.5,428.5 M558.4,496.2 L560.5,494.1 L560.9,492.4 L566.1,489.0 L569.7,484.2 L573.0,483.1 L576.9,478.6 L578.5,478.0 L581.0,474.1 L584.3,471.1 M535.5,457.4 L536.8,456.6 L537.7,455.2 L541.7,453.1 M584.3,471.1 L580.3,469.1 L578.6,469.1 L576.2,467.1 L572.0,465.5 L569.6,463.5 L568.0,463.3 L564.2,460.9 L561.3,459.9 M541.7,453.1 L548.9,456.7 L556.9,458.0 L561.3,459.9 M580.3,441.1 L567.5,440.8 L564.3,441.3 L562.7,440.8 M580.3,441.1 L579.0,440.1 L578.5,438.5 L576.5,436.1 M576.5,436.1 L568.7,438.3 L567.0,438.1 L562.2,439.0 M562.7,440.8 L562.2,439.0 M583.9,445.6 L585.8,441.2 L586.2,436.6 L585.5,431.9 L587.1,422.9 M587.1,422.9 L584.7,425.0 L580.3,426.7 L579.1,427.9 L576.1,428.8 L575.1,430.3 L573.7,430.9 M583.9,445.6 L580.3,441.1 M573.7,430.9 L575.0,434.7 L576.5,436.1 M646.6,413.7 L643.6,413.8 M624.4,405.3 L623.2,404.2 L621.6,401.2 L614.9,396.5 M614.9,396.5 L615.4,392.0 L616.2,390.6 M636.1,362.3 L633.4,365.9 L631.3,370.0 L629.0,372.1 L625.5,376.9 L624.1,377.7 L621.3,383.2 L616.2,390.6 M573.7,430.9 L564.9,418.1 M562.2,439.0 L557.1,435.3 L551.4,430.0 M564.9,418.1 L561.6,421.2 L557.7,423.6 L556.0,426.2 L553.3,427.7 L551.4,430.0 M505.6,414.9 L511.3,412.2 L513.0,412.5 L519.1,410.7 M541.7,453.1 L542.3,448.4 L542.1,445.2 L543.3,440.7 L543.7,434.4 M519.1,410.7 L521.5,412.6 L526.5,418.7 L528.0,419.3 L528.8,420.8 L533.2,425.2 L537.0,427.9 L543.7,434.4 M561.3,459.9 L561.3,451.9 L562.4,450.4 L563.0,447.2 L562.7,440.8 M543.7,434.4 L545.0,433.2 L546.8,432.7 L551.4,430.0 M598.7,431.8 L597.3,434.5 L595.1,436.6 L592.4,440.3 L592.2,442.0 L587.8,446.3 L587.1,447.7 L585.7,448.5 M598.7,431.8 L606.5,431.7 L608.0,430.7 M608.0,430.7 L609.2,433.5 L609.4,438.1 L611.4,450.2 M585.7,448.5 L585.3,450.1 L586.6,456.3 L586.1,459.5 L587.1,464.1 L586.8,470.4 M592.1,410.2 L592.0,411.8 L593.9,419.1 L595.6,421.7 L596.0,424.7 L597.7,427.3 L598.7,431.8 M587.1,422.9 L587.1,421.3 L588.4,420.2 L588.3,418.5 L590.1,415.9 L592.1,410.2 M583.9,445.6 L584.3,447.3 L585.7,448.5 M592.1,410.2 L591.5,403.8 M604.7,401.0 L601.2,401.1 L596.5,402.9 L591.5,403.8 M604.7,401.0 L605.1,407.2 L605.9,410.2 L605.3,411.8 L606.7,416.3 L606.4,417.9 L609.4,426.8 L609.3,429.9 M609.3,429.9 L608.0,430.7 M584.3,471.1 L586.8,470.4 M618.1,431.6 L614.0,429.2 M618.1,431.6 L618.3,433.4 L624.3,441.0 M618.5,446.0 L618.1,444.5 L616.1,442.1 L612.5,435.3 L612.4,433.7 L609.8,429.9 M609.8,429.9 L614.0,429.2 M620.6,416.1 L615.8,426.4 L614.0,429.2 M623.5,428.5 L622.3,429.7 L618.1,431.6 M632.1,427.5 L628.3,439.5 M609.3,429.9 L609.8,429.9 M614.9,396.5 L609.3,399.6 L606.0,400.2 L604.7,401.0 M528.1,299.4 L527.6,303.9 L526.7,305.3 L526.7,312.8 L524.2,318.6 L521.4,327.3 M546.0,328.5 L538.4,329.3 L531.3,331.9 L526.6,332.0 M521.4,327.3 L523.8,329.9 L525.6,330.5 L526.6,332.0 M521.4,327.3 L519.9,327.1 L518.3,328.1 L516.8,328.2 L515.3,327.3 L507.7,327.1 L504.7,325.7 L500.1,324.8 M591.5,403.8 L589.9,403.6 L588.5,402.6 L585.3,402.0 M564.9,418.1 L567.4,412.0 L567.4,407.0 L568.7,400.6 M585.3,402.0 L576.3,400.5 L573.3,401.0 L568.7,400.6 M567.7,399.5 L567.5,397.9 L568.6,393.4 L567.6,384.3 L568.1,379.8 L567.0,375.3 L567.6,372.3 L567.9,361.7 M567.7,399.5 L564.6,399.5 L560.2,397.4 L552.5,396.7 L544.9,396.7 L541.8,395.8 L538.7,396.1 L535.7,395.6 L531.0,396.7 M531.0,396.7 L529.6,393.8 L529.6,389.2 L528.8,386.3 L529.2,383.2 L529.2,370.9 L528.4,368.0 L526.8,365.1 M567.7,361.4 L566.2,360.7 L560.1,360.8 L555.6,359.9 L549.5,360.0 L548.0,359.6 L546.5,360.2 L543.5,359.8 L538.9,361.3 L532.9,360.3 L529.8,361.2 M526.8,365.1 L529.8,361.2 M568.7,400.6 L567.7,399.5 M519.1,410.7 L522.7,405.7 L527.3,401.6 L528.8,398.8 L531.0,396.7 M497.5,365.5 L500.6,366.2 L502.2,365.7 L505.3,366.2 L511.4,365.4 L514.5,366.0 L517.6,365.2 L520.7,365.0 L523.8,365.7 L526.8,365.1 M572.6,347.1 L567.7,361.4 M526.6,332.0 L527.3,335.1 L527.2,341.3 L527.8,345.9 L528.9,348.9 L528.1,350.5 L528.7,352.0 L529.3,356.6 L529.0,358.2 L529.8,361.2 M605.2,378.4 L605.7,375.4 L605.1,372.4 L606.0,367.8 L604.8,357.3 M605.2,378.4 L604.0,377.9 M604.0,377.9 L602.3,375.1 L602.2,373.2 L601.2,372.0 L600.9,370.3 L598.5,367.9 L595.1,362.4 M604.8,357.3 L603.2,357.7 L599.4,360.5 L595.1,362.4 M607.0,353.2 L604.8,357.3 M616.2,390.6 L615.3,389.2 L613.6,388.5 L613.0,386.8 L611.5,386.0 L611.0,384.2 L609.1,381.6 L605.2,378.4 M600.3,377.0 L598.8,375.8 L595.3,374.6 M600.3,377.0 L597.1,378.1 L590.2,383.0 M595.3,374.6 L590.1,380.8 M590.2,383.0 L590.1,380.8 M585.3,402.0 L586.3,400.7 L587.0,397.8 L588.5,395.0 L588.5,391.9 L590.3,386.1 L590.2,383.0 M604.0,377.9 L600.3,377.0 M568.9,361.9 L574.6,364.8 L575.5,366.2 L577.9,368.2 L579.6,371.0 L585.3,376.4 L589.2,379.1 M568.9,361.9 L578.1,363.4 L579.6,364.2 L587.4,364.9 M589.2,379.1 L592.2,371.5 M587.4,364.9 L592.2,371.5 M567.9,361.7 L568.9,361.9 M590.1,380.8 L589.2,379.1 M595.1,362.4 L588.7,363.7 L587.4,364.9 M595.3,374.6 L592.2,371.5 M356.0,180.3 L359.3,183.3 L360.8,183.8 L363.9,187.2 L366.7,188.5 L375.1,197.2 L387.0,204.2 M357.9,178.7 L360.7,180.3 L365.0,184.7 L367.9,186.2 L369.5,190.8 L371.6,193.1 L373.6,197.4 L375.4,197.9 L378.7,203.2 M378.7,203.2 L383.6,204.5 L387.0,204.2 M414.6,216.1 L412.1,214.4 L410.5,214.3 L406.3,212.7 L402.3,210.4 L398.0,209.2 L396.9,207.8 L387.0,204.2 M348.2,219.4 L357.5,214.4 L364.7,212.1 L370.1,209.6 L375.2,206.3 L378.7,203.2 M862.5,236.3 L869.3,244.3 M839.3,265.4 L840.9,265.9 L844.0,265.1 L845.6,265.6 L851.8,264.0 L856.5,263.6 L858.1,264.0 L866.0,263.8 M869.3,244.3 L867.8,248.7 L867.2,254.8 L867.7,256.4 L866.3,260.8 L866.0,263.8 M833.4,279.2 L833.7,277.7 L832.7,274.7 L833.2,273.2 M873.9,275.5 L869.1,269.3 L866.0,263.8 M869.3,244.3 L874.1,244.5 L875.6,243.8 L878.8,243.7 M884.0,276.1 L886.8,270.5 L887.8,266.0 L887.7,262.8 L889.0,260.0 L889.1,256.8 L891.0,254.1 L891.0,249.4 L891.6,246.4 M878.8,243.7 L881.9,244.7 L885.2,244.9 L888.3,246.3 L891.6,246.4 M904.9,272.2 L904.6,270.7 L906.5,261.8 L906.1,257.2 L907.2,254.2 L907.5,251.2 L906.7,246.6 L907.8,243.6 L907.0,242.0 M899.2,270.5 L899.3,267.4 L900.3,264.5 L901.3,263.0 L901.5,260.0 L900.6,253.9 L901.2,250.9 L900.8,244.8 M907.0,242.0 L905.6,243.1 L900.8,244.8 M908.2,240.9 L907.0,242.0 M891.6,246.4 L895.6,245.3 M895.6,245.3 L900.8,244.8 M885.3,229.9 L887.0,230.8 M885.3,229.9 L886.3,223.9 M878.8,243.7 L880.2,241.0 L880.4,239.4 L882.5,237.0 L883.9,234.3 L885.3,229.9 M895.6,245.3 L894.2,242.6 M333.1,50.2 L330.1,50.0 L327.3,48.7 L324.2,48.7 L322.7,49.2 L316.7,48.3 L309.1,48.8 L304.7,47.8 M304.7,47.8 L305.1,44.7 L304.4,38.7 L305.3,35.6 L304.7,31.0 L304.0,29.6 L304.4,28.0 L303.8,25.0 L304.3,23.4 L303.9,20.4 M290.8,74.7 L291.0,71.7 M246.1,51.5 L248.7,53.2 L251.6,54.1 L253.3,54.0 L257.7,55.1 L263.9,59.8 L268.2,61.4 L271.3,61.8 L273.9,63.3 M291.0,71.7 L288.2,70.2 L285.8,67.9 L284.1,67.8 L273.9,63.3 M304.7,47.8 L303.2,50.5 L300.2,53.9 L296.2,62.2 L292.0,68.5 L291.7,70.1 M291.0,71.7 L291.7,70.1 M273.9,63.3 L272.8,62.0 L270.3,51.2 L268.5,48.5 L265.8,39.4 M262.6,39.9 L261.1,40.3 L258.4,42.3 L253.7,43.2 L250.8,44.5 L245.9,44.9 L241.7,47.3 L240.1,47.6 M255.6,24.0 L252.8,27.7 L251.9,30.6 M240.1,47.6 L243.9,42.5 L244.3,40.8 L248.5,34.1 L251.9,30.6 M267.6,34.9 L268.9,33.5 L270.6,32.7 M266.4,38.2 L269.7,38.8 L271.2,39.8 M270.6,32.7 L270.4,36.3 L271.2,39.8 M265.8,39.4 L266.4,38.2 M251.9,30.6 L253.5,30.9 L256.5,32.4 L261.4,33.5 L262.8,34.4 M282.4,13.3 L277.3,20.8 L276.6,24.0 L275.2,26.7 L272.9,28.8 L270.6,32.7 M291.7,70.1 L287.2,62.1 L286.9,60.5 L285.5,59.6 L284.0,56.9 L282.6,56.1 L271.2,39.8 M859.0,236.5 L857.2,230.6 L856.0,229.6 L854.8,226.8 M848.9,218.0 L847.9,216.9 M655.2,120.2 L658.4,120.5 L661.3,119.7 L662.9,120.0 L665.8,119.2 L671.2,116.3 L681.5,114.1 M681.5,114.1 L681.9,112.6 L684.7,108.9 M719.1,129.1 L719.6,133.6 M719.0,139.6 L718.3,141.1 L718.3,142.7 M718.3,142.7 L725.7,144.4 M681.5,114.1 L681.7,115.6 L684.1,119.5 L689.0,130.6 L691.3,134.5 L693.7,143.4 L694.7,144.6 M694.7,144.6 L693.0,147.1 L690.6,149.0 L687.2,154.0 L685.9,154.9 L683.6,158.9 L675.5,165.6 L674.8,167.1 M714.2,144.3 L714.4,147.4 L716.4,151.6 L717.5,156.1 L720.4,159.9 L722.5,170.5 M714.2,144.3 L712.2,145.0 M712.2,145.0 L711.3,149.5 L712.6,152.5 L711.4,163.0 L711.8,164.5 L711.4,169.0 L712.2,172.1 L711.8,176.6 M722.5,170.5 L719.6,172.0 L717.1,173.9 L716.2,175.5 L714.8,176.2 M718.3,142.7 L714.2,144.3 M694.7,144.6 L699.5,144.7 L701.1,145.4 L705.8,144.2 L710.6,145.2 L712.2,145.0" fill="none" stroke="#fff" stroke-width="0.7" stroke-linejoin="round" opacity="0.6"/>
<path d="M915.9,97.8 L940.5,91.6 L941.7,101.6 L937.1,108.8 L937,116.8 L936.7,126.9 L938.6,137.9 L927.4,140.3 L924.2,126 L921.3,124.7 L921.2,116.8 L917.6,107.6Z" fill="#cfe8fc"/>
<path d="M944.6,84.7 L949.3,99.5 L952.2,108.8 L955.7,121 L960.7,125.3 L960.6,129.3 L954.6,134 L949.7,125.6 L946.5,110.3 L943.1,95.2 L940.6,86.8Z" fill="#cfe8fc"/>
<path d="M269,9.8 L292,16 L291,26 L280,27 L270,26 L267.5,17Z" fill="#cfe8fc"/>
<path d="M266,26 L272,27 L272,48 L270,66 L262,66 L264,48Z" fill="#cfe8fc"/>
<path d="M239,53 L262,60 L270,66 L268,80 L258,80 L250,76 L238,70 L235,66Z" fill="#cfe8fc"/>
<path d="M234.6,69.7 L240,72 L239,86 L236,100 L229,100 L224,97 L229.4,82.3Z" fill="#cfe8fc"/>
<path d="M224.2,96.9 L218.1,107.3 L211.5,116.7 L211.3,124.6 L211.3,133.8 L217,135 L218,128 L227,120 L240,117 L256,113 L262,104 L258,100 L240,100Z" fill="#cfe8fc"/>
<path d="M211.3,133.8 L210,143.6 L207,150.8 L204.6,156.2 L199.6,162.1 L202.9,172 L202.3,184.1 L200.9,193.9 L206.5,206.8 L206,213.8 L222,214 L221,200 L221,188 L224,172 L228,160 L226,150 L219,136Z" fill="#cfe8fc"/>
<path d="M206,213.8 L211.8,220 L210.6,225.3 L210.4,231.4 L214.2,237.6 L217.2,241.4 L213.9,244.6 L213,250.4 L218.9,264.2 L223.7,270.6 L225.9,277.2 L224.7,282 L225.2,291.2 L236.8,295.2 L242.3,299 L248.8,306.3 L262,300 L250,292 L240,288 L238,272 L232,266 L228,256 L230,244 L236,232 L236,214Z" fill="#cfe8fc"/>
<path d="M276.3,313.7 L305.5,317.1 L312.5,299 L320.5,315.1 L311.5,333.2 L310.5,344.5 L286.4,342 L288.4,322.1 L276.3,317Z" fill="#cfe8fc"/>
<path d="M248.8,306.3 L253.5,307 L253.8,312.5 L258.5,313.6 L264.7,322.1 L267.6,327.8 L268.2,338 L272,338.5 L272.5,322 L269,310 L262,300Z" fill="#cfe8fc"/>
<path d="M444.2,204.1 L478.7,208.1 L477.1,221.8 L474,232 L470.7,241 L473.9,252.3 L467.5,264 L461,264 L451.4,244.3 L453,236.2 L446.6,228.2 L442.6,212.1Z" fill="#cfe8fc"/>
<path d="M640,128 L656,126 L660,136 L654,144 L642,142Z" fill="#cfe8fc"/>
<path d="M718,222 L722,226 L708,236 L700,248 L696,258 L693,256 L698,244 L706,232Z" fill="#cfe8fc"/>
<path d="M688,196 L696,194 L697,212 L692,220 L688,218Z" fill="#cfe8fc"/>
<path d="M703,181 L728,180 L733,186 L733,205 L722,218 L705,212Z" fill="#cfe8fc"/>
<path d="M771,168 L791,166 L792,180 L773,184Z" fill="#cfe8fc"/>
<path d="M858,143 L870,142 L872,151 L860,152Z" fill="#cfe8fc"/>
<path d="M927.4,140.3 L954.7,134.4 L960.4,129.4 L964.5,132.7 L960.5,139.9 L967.4,146.1 L970.4,148.9 L977.2,146.4 L973,142.1 L977.3,144.4 L978.5,148.7 L973.9,150.8 L969.6,154.2 L964.9,155.9 L960.2,157.9 L958.9,160.3 L953.8,162.6 L939.5,167.5 L931.5,174.1 L930.1,174.8 L928.7,173.1 L930.2,168.8 L927.4,154.3Z" fill="#cfe8fc"/>
<path d="M913.7,171.4 L926.6,175.6 L927.6,186.1 L929,195.2 L926.8,208.7 L920.7,218.6 L918.1,213.7 L911.9,210.1 L909.1,207.7 L910.2,203.5 L913.9,200.6 L917.8,193.7 L909.7,186.5 L909.4,180.2Z" fill="#cfe8fc"/>
<path d="M928.9,179.1 L930,177.4 L938.1,173.9 L949.1,167.1 L955,167.2 L947.2,174 L936.8,180.6 L927.9,184.4 L926.2,183.4Z" fill="#cfe8fc"/>
<path d="M927.4,140.3 L927.4,154.3 L930.2,168.8 L926.6,175.6 L913.7,171.4 L907.6,164 L910.2,149.4 L913.5,138.6 L921.3,134.8Z" fill="#cfe8fc"/>
<path d="M882,219.3 L895.8,212.5 L903.6,220.9 L901.2,231.4 L891.6,229.4 L886.3,225.5Z" fill="#cfe8fc"/>
<path d="M792,344 L796,344 L796,348 L792,348Z" fill="#cfe8fc"/>
<path d="M317.5,24.1 L340.3,27.8 L338.5,40 L336,50 L333,62 L329.6,76 L328.8,81.5 L302.4,78.3 L302.4,66.3 L312.5,60.2 L315.5,40.2Z" fill="#fee0e1"/>
<path d="M265.3,79.8 L302.4,79.5 L328.8,82.7 L332.6,92.4 L328.5,100 L321,110 L318.5,118 L316,135 L311.7,160.3 L268.5,151.5 L217,135 L218,128 L227,120 L240,117 L256,113 L262,104 L258.3,92.4Z" fill="#fee0e1"/>
<path d="M593.1,57.6 L619.8,57.6 L619.8,50.3 L623.6,51.4 L625.7,59.5 L627,62.9 L637.4,65.9 L642.6,64.9 L654.4,67.9 L660.9,70 L669,74 L677.4,73 L687.2,72.4 L690.6,74.5 L683.3,79.4 L674.9,86.6 L666.4,94.4 L660.8,99.3 L658.4,101.7 L658.8,112.9 L652.2,118.6 L651.6,123.4 L648,119 L640.3,118.1 L629.3,124.1 L634.3,144.2 L624.3,145.2 L624.3,155.2 L604.2,155.2 L602.7,150.3 L602.8,129 L597.4,123.1 L601.3,116.6 L598.2,103.8 L597.6,96 L594.5,76.8Z" fill="#fee0e1"/>
<path d="M240,216 L252,216 L258,232 L262,250 L268,272 L272,286 L262,290 L250,290 L240,286 L238,272 L236,264 L241,256 L243,244 L242,232Z" fill="#fee0e1"/>
<path d="M688,181 L703,181 L705,212 L722,218 L716,222 L690,221 L688,218 L692,212 L697,200 L696,194 L688,196Z" fill="#fee0e1"/>
<path d="M840.2,170.3 L851.2,156.2 L858,158 L866,170 L864.3,174.3Z" fill="#fee0e1"/>
<path d="M822,314 L829,314 L829,320 L822,320Z" fill="#fee0e1"/>
<path d="M893.4,208.6 L905.2,206.2 L911.7,230 L921.2,227.9 L920.8,236.6 L910.8,240.4 L907.9,234 L901.5,225.3 L902.2,214.2 L896,213.5Z" fill="#fee0e1"/>
<path d="M238.6,56.7 L245.6,58.8 L248,60.5 L250.7,65.4 L251.1,71.5 L257.7,75.4 L267.6,75.2 L271.1,78.1 L280.7,78.7 L293.6,77.6 L301.8,78.1 L329.1,84.5 M340.2,27.8 L329.3,76.2 L329.1,84.5 L332.6,95.2 L329.1,98.4 L325.4,105.5 L318.5,113.9 L320.6,117.4 L318.3,125.8 L310.6,160.1 M211.3,133.8 L225.2,137.9 L239.1,141.9 L253.1,145.8 L267.1,149.5 L281.1,153.1 L295.2,156.5 L309.3,159.8 L323.4,162.9 L337.6,165.9 L351.8,168.7 L366,171.3 L380.3,173.8 L394.5,176.2 M269.3,150.1 L254.6,206.9 L317.5,301.5 M352.4,168.8 L331,280.2 L320.6,280.2 L319.5,281.9 L317.5,301.5 L317.7,305.5 L318.4,315.6 L319.4,318.8 L312.6,328.4 L311,345 L307.4,344.8 M334,264.8 L349.4,267.7 L364.8,270.4 L380.3,273 L395.8,275.3 L411.3,277.5 L426.8,279.6 L442.4,281.5 L458,283.2 L473.5,284.7 L489.2,286.1 L504.8,287.3 L520.4,288.3 L536.1,289.2 L551.7,289.9 L567.4,290.4 L583,290.8 L598.7,291 L614.4,291 L630,290.8 M394.5,176.2 L402.2,128.1 L398.1,123.5 L385.2,125.3 L377.4,125.9 L375.5,124.6 L371,114.8 L371.1,110.9 L367.2,98.3 L361.8,101.2 L358.7,99.6 L362.6,93.5 L363.5,78.9 L355.3,65.4 L350.7,58.6 L348.6,49.3 L352.6,30.5 M403.8,118.5 L417.3,120.6 L430.8,122.6 L444.4,124.4 L458,126 L471.6,127.5 L485.2,128.9 L498.8,130.1 M505.4,53.3 L492.2,207.8 M394.5,176.2 L391.5,195.5 M391.5,195.5 L405.8,197.7 L420.2,199.8 L434.5,201.7 L448.9,203.4 L463.4,205 L477.8,206.5 L492.2,207.8 L506.7,208.9 L521.2,209.9 M521.2,209.9 L519.9,229.5 M519.9,229.5 L536.5,230.4 L553,231.2 L569.5,231.7 L586.1,232.1 L602.6,232.3 L619.2,232.3 M420.2,199.8 L394.3,387 M519.9,229.5 L516.2,288 M501.7,287.1 L501,296.8 L500.3,296.8 L493.5,384.4 M493.5,384.4 L474.2,382.8 L454.8,381 L435.5,379 M501,296.8 L516.3,297.9 L531.8,298.8 L547.2,299.5 M547.2,299.5 L545.6,337.4 L558.1,342.9 L569.1,347.2 L578.6,351.3 L589.7,354.4 L599.3,352.6 L612.1,352.6 L621.7,350.6 L633.2,356.5 M500.4,112 L514.8,113.1 L529.2,114.1 L543.6,114.9 L558,115.6 L572.5,116.1 L586.9,116.4 L601.3,116.6 M495.5,168.9 L511.1,170.1 L526.8,171.2 L542.4,172.1 L558,172.7 L573.7,173.2 L582.8,176.4 L591.9,176.5 L599,181.5 L602.5,183.6 M593.1,57.6 L594.5,76.8 L597.6,96 L598.2,103.8 L601.3,116.6 L597.4,123.1 L602.8,129 L602.6,163.9 L601.1,171.7 L602.5,183.6 L607.5,199.1 L610.3,208.8 L611.1,218.6 L612.2,220.9 L619.2,232.3 L625.1,237.1 L622.2,241 L629.7,249.4 L630.2,300.6 L630.2,300.6 L633.5,322.1 L633.2,356.5 L640.3,358.1 L640.9,388.3 L645.1,398 L649.4,404.7 L647.2,415.4 L647.4,425.1 L645.1,433 M602.6,163.9 L617.2,163.9 L631.9,163.8 L646.5,163.4 L661.1,162.9 L675.8,162.3 M612.2,220.9 L671.2,219 L675.9,223.2 M640.5,368.5 L663.7,367.8 L686.9,366.8 M630.2,300.6 L699.1,298 L696.3,308 L706.7,307.3 M660.9,99.9 L658.4,101.7 L658.8,112.9 L652.2,118.6 L653.2,128.2 L652.8,138.9 L659.9,143.5 L665.6,147.2 L674.3,155.5 L675.8,162.3 L676.4,170 L678.2,176.8 L684.9,181.1 L691.7,188.7 L692.7,194.5 L688,200.3 L680.4,205 L680.1,214.8 L675.9,223.2 L675.1,230.7 L677.6,236.5 L684.6,244 L687.9,249.7 L695.5,252.1 L696.1,256.4 L694.1,265 L701.2,270.4 L708.1,281.7 L713.8,287.4 L711.3,295.2 L709.1,297.4 L706.7,307.3 L702.3,324.3 L698.6,327.4 L694.4,337.5 L688.7,349.5 L686,359.4 L686.9,367.2 L690.1,376.8 L688.9,384.7 L682.9,396.6 L681.2,406.5 L712.7,404.7 L711.9,411.6 L715.9,420.1 M685,181.3 L705.1,180 L725.2,178.4 M723.5,127.8 L720.4,123.2 L715.6,114.9 L708.6,111.5 L701.6,109.1 L687.7,106.4 L683.7,102.2 M730.3,192.5 L734.5,239.4 L734.2,248.3 L736.4,255.9 L730.9,262.3 L729.6,270.3 M769.1,189.6 L775.1,240.1 M735,192.1 L769,188.5 L769.1,189.6 L788.5,186.6 M833.6,201.4 L832.5,206.4 L833.3,216.1 L830,223.6 L822.7,230.3 L820.8,236.9 L815.2,244.7 L811.2,248.8 L809.7,249 L802.9,243.8 L792.8,246.8 L779.8,239.5 L775.1,240.1 L774.6,246.5 L767.3,248.3 L763,257.8 L755.3,263.9 L747.9,265.7 L736.6,266.7 L729.6,270.3 L724.4,284.5 L722.1,285.2 L713.8,287.4 M709.1,297.4 L731.1,295.7 L730.8,292.2 L798.2,286.5 L806.4,280.5 L811.8,274.8 L817.3,270.1 L821.6,264.7 L809.7,249 M798.3,287.1 L815.4,284.8 L832.4,282.3 L849.4,279.5 L866.3,276.6 L883.2,273.5 L900.1,270.2 L917,266.7 M828.8,282.4 L825.3,292.6 L816.4,295.9 L809.4,301.8 L796.3,310.5 L792.3,318.8 M698.6,327.4 L714.7,326.4 L730.9,325.1 L747,323.7 L763.1,322.2 L779.2,320.4 L795.3,318.5 L811.3,316.4 M811.3,316.4 L823.2,310.7 L842.8,308.8 L844.8,309.4 L847.7,314.5 L865.4,311.9 L886.1,327.1 M811.3,316.4 L808.2,322.7 L815.9,326.6 L829,339.5 L833.3,343.4 L842.2,351.3 L851.3,367.7 L855.2,368.4 M772.3,321.2 L783.6,361.8 L787.8,372.5 L788.6,387.1 L790.7,397.6 L793.7,403.1 L837.9,399.8 L841.6,402.6 L840.6,395.9 L849.8,395.3 M790.7,397.6 L747.8,402 L750.7,415.4 M731.5,325.1 L733.3,326.9 L732.1,385.7 L735.9,418.6 M821.6,264.7 L827,270.6 L833.7,268.8 L846.9,261.5 L849.8,251.3 L853,239.2 L859.6,239.9 L863.9,233.3 L869.2,219.8 L877.8,223.5 L878.7,219.6 L870.3,213.6 L867.4,217.8 L858.8,220.1 L853.4,226.6 L851.7,216.6 M836.5,219.2 L853.7,216.3 L870.9,213.1 L888.1,209.7 L905.2,206.2 M836.5,219.2 L829.4,175.6 M839.1,168.2 L840,173.4 L901.9,161.3 L907.5,168 L913.7,171.4 L909.4,180.2 L909.7,186.5 L917.8,193.7 L913.9,200.6 L910.2,203.5 L907.4,203.5 L905.2,206.2 L911.7,230 L921.2,227.9 M913.7,171.4 L926.6,175.6 M878.7,219.6 L882.8,223.2 L890.6,227.6 L888.4,236 L895,238.7 L905.1,242.6 M915.9,97.8 L917.6,107.6 L921.2,116.8 L921.3,124.7 L924.2,126 L927.4,140.3 L927.4,154.3 L930.2,168.8 L928.7,173.1 L930.1,174.8 M927.4,140.3 L954.7,134.4 L960.4,129.4 M938.6,137.9 L936.7,126.9 L937,116.8 L937.1,108.8 L941.7,101.6 L940.5,91.6 M960.7,125.3 L955.7,121 L952.2,108.8 L949.3,99.5 L944.6,84.7 M927.5,154.5 L951.2,149 L957,147.7 L963,156.4 M951.3,149.2 L954.7,162.2" fill="none" stroke="#fff" stroke-width="0.9" stroke-linejoin="round" opacity="0.95"/>
<path d="M616.3,64.1 L614,75 L609.3,88.2 L609,95 L624.4,96.3 L626,105 L628.4,110.3 L634,113 L640,118" fill="none" stroke="#fff" stroke-width="0.8" opacity="0.8"/>
<circle cx="926.5" cy="183.5" r="63.2" fill="rgba(45,125,195,0.48)" stroke="#336a9e" stroke-width="1"/>
<circle cx="727.3" cy="191.8" r="23.8" fill="rgba(45,125,195,0.48)" stroke="#336a9e" stroke-width="1"/>
<circle cx="215.6" cy="221.7" r="18.6" fill="rgba(45,125,195,0.48)" stroke="#336a9e" stroke-width="1"/>
<circle cx="257.8" cy="45.8" r="16" fill="rgba(45,125,195,0.48)" stroke="#336a9e" stroke-width="1"/>
<circle cx="231.2" cy="214.5" r="13.3" fill="rgba(45,125,195,0.48)" stroke="#336a9e" stroke-width="1"/>
<circle cx="251.2" cy="306.1" r="11.6" fill="rgba(45,125,195,0.48)" stroke="#336a9e" stroke-width="1"/>
<circle cx="649.8" cy="134.5" r="11.4" fill="rgba(45,125,195,0.48)" stroke="#336a9e" stroke-width="1"/>
<circle cx="722.2" cy="191.2" r="10.4" fill="rgba(45,125,195,0.48)" stroke="#336a9e" stroke-width="1"/>
<circle cx="459.8" cy="219.4" r="10.1" fill="rgba(45,125,195,0.48)" stroke="#336a9e" stroke-width="1"/>
<circle cx="281" cy="118.1" r="9.2" fill="rgba(222,52,58,0.5)" stroke="#b44853" stroke-width="1"/>
<circle cx="684.3" cy="260.5" r="7.9" fill="rgba(222,52,58,0.5)" stroke="#b44853" stroke-width="1"/>
<circle cx="957.6" cy="141.2" r="9" fill="rgba(45,125,195,0.48)" stroke="#336a9e" stroke-width="1"/>
<circle cx="894" cy="217.7" r="7" fill="rgba(45,125,195,0.48)" stroke="#336a9e" stroke-width="1"/>
<circle cx="918.5" cy="142.2" r="6.6" fill="rgba(45,125,195,0.48)" stroke="#336a9e" stroke-width="1"/>
<circle cx="943.6" cy="143.2" r="6" fill="rgba(45,125,195,0.48)" stroke="#336a9e" stroke-width="1"/>
<circle cx="211.1" cy="172.9" r="6.4" fill="rgba(45,125,195,0.48)" stroke="#336a9e" stroke-width="1"/>
<circle cx="249.8" cy="233.2" r="5.6" fill="rgba(222,52,58,0.5)" stroke="#b44853" stroke-width="1"/>
<circle cx="242.2" cy="68.1" r="5.5" fill="rgba(45,125,195,0.48)" stroke="#336a9e" stroke-width="1"/>
<circle cx="645.7" cy="135.1" r="5.4" fill="rgba(45,125,195,0.48)" stroke="#336a9e" stroke-width="1"/>
<circle cx="464.7" cy="248.3" r="5.3" fill="rgba(45,125,195,0.48)" stroke="#336a9e" stroke-width="1"/>
<circle cx="477.6" cy="232.2" r="5.1" fill="rgba(45,125,195,0.48)" stroke="#336a9e" stroke-width="1"/>
<circle cx="460" cy="311.4" r="5" fill="rgba(45,125,195,0.48)" stroke="#336a9e" stroke-width="1"/>
<circle cx="461.9" cy="338.7" r="4.6" fill="rgba(45,125,195,0.48)" stroke="#336a9e" stroke-width="1"/>
<circle cx="431.4" cy="356.4" r="4.6" fill="rgba(45,125,195,0.48)" stroke="#336a9e" stroke-width="1"/>
<circle cx="278.7" cy="20.1" r="4.8" fill="rgba(45,125,195,0.48)" stroke="#336a9e" stroke-width="1"/>
<circle cx="256.9" cy="59.9" r="4.3" fill="rgba(45,125,195,0.48)" stroke="#336a9e" stroke-width="1"/>
<circle cx="221.5" cy="256.2" r="4.2" fill="rgba(45,125,195,0.48)" stroke="#336a9e" stroke-width="1"/>
<circle cx="642.4" cy="88.8" r="4.4" fill="rgba(222,52,58,0.5)" stroke="#b44853" stroke-width="1"/>
<circle cx="783.3" cy="177.7" r="4.2" fill="rgba(45,125,195,0.48)" stroke="#336a9e" stroke-width="1"/>
<circle cx="861.6" cy="164.7" r="4.2" fill="rgba(222,52,58,0.5)" stroke="#b44853" stroke-width="1"/>
<circle cx="704.1" cy="241.3" r="4" fill="rgba(45,125,195,0.48)" stroke="#336a9e" stroke-width="1"/>
<circle cx="264.3" cy="306.1" r="4.4" fill="rgba(45,125,195,0.48)" stroke="#336a9e" stroke-width="1"/>
<circle cx="261.3" cy="318.1" r="4.4" fill="rgba(45,125,195,0.48)" stroke="#336a9e" stroke-width="1"/>
<circle cx="232.6" cy="209.1" r="4" fill="rgba(45,125,195,0.48)" stroke="#336a9e" stroke-width="1"/>
<circle cx="219.5" cy="204" r="3.6" fill="rgba(45,125,195,0.48)" stroke="#336a9e" stroke-width="1"/>
<circle cx="479.5" cy="223.7" r="3.9" fill="rgba(222,52,58,0.5)" stroke="#b44853" stroke-width="1"/>
<circle cx="926.5" cy="170.3" r="3.8" fill="rgba(222,52,58,0.5)" stroke="#b44853" stroke-width="1"/>
<circle cx="612.6" cy="111.4" r="3.4" fill="rgba(222,52,58,0.5)" stroke="#b44853" stroke-width="1"/>
<circle cx="301" cy="326.7" r="3.4" fill="rgba(45,125,195,0.48)" stroke="#336a9e" stroke-width="1"/>
<circle cx="259.8" cy="78.4" r="3.2" fill="rgba(45,125,195,0.48)" stroke="#336a9e" stroke-width="1"/>
<circle cx="410" cy="467.2" r="3.5" fill="rgba(45,125,195,0.48)" stroke="#336a9e" stroke-width="1"/>
<circle cx="320.8" cy="54.6" r="2.7" fill="rgba(222,52,58,0.5)" stroke="#b44853" stroke-width="1"/>
<circle cx="266.7" cy="36.3" r="2.2" fill="rgba(45,125,195,0.48)" stroke="#336a9e" stroke-width="1"/>
<circle cx="230.8" cy="106.6" r="2" fill="rgba(45,125,195,0.48)" stroke="#336a9e" stroke-width="1"/>
<circle cx="213.5" cy="229.3" r="5.4" fill="rgba(45,125,195,0.48)" stroke="#336a9e" stroke-width="1"/>
<circle cx="212.1" cy="224.1" r="2.4" fill="rgba(45,125,195,0.48)" stroke="#336a9e" stroke-width="1"/>
<circle cx="217.8" cy="231.5" r="3.2" fill="rgba(45,125,195,0.48)" stroke="#336a9e" stroke-width="1"/>
<circle cx="222.1" cy="221.6" r="2" fill="rgba(45,125,195,0.48)" stroke="#336a9e" stroke-width="1"/>
<circle cx="231.6" cy="223.1" r="3" fill="rgba(45,125,195,0.48)" stroke="#336a9e" stroke-width="1"/>
<circle cx="219.8" cy="228" r="2.2" fill="rgba(45,125,195,0.48)" stroke="#336a9e" stroke-width="1"/>
<circle cx="215.3" cy="226" r="2.6" fill="rgba(45,125,195,0.48)" stroke="#336a9e" stroke-width="1"/>
<circle cx="212.5" cy="231.5" r="2.6" fill="rgba(45,125,195,0.48)" stroke="#336a9e" stroke-width="1"/>
<circle cx="221" cy="225.5" r="2" fill="rgba(45,125,195,0.48)" stroke="#336a9e" stroke-width="1"/>
<circle cx="245.8" cy="271.3" r="2" fill="rgba(222,52,58,0.5)" stroke="#b44853" stroke-width="1"/>
<circle cx="258.5" cy="274.7" r="2.3" fill="rgba(222,52,58,0.5)" stroke="#b44853" stroke-width="1"/>
<circle cx="232.8" cy="285.4" r="2" fill="rgba(45,125,195,0.48)" stroke="#336a9e" stroke-width="1"/>
<circle cx="257.3" cy="309.1" r="3.2" fill="rgba(45,125,195,0.48)" stroke="#336a9e" stroke-width="1"/>
<circle cx="255.5" cy="311" r="2.4" fill="rgba(45,125,195,0.48)" stroke="#336a9e" stroke-width="1"/>
<circle cx="259" cy="307" r="2.2" fill="rgba(45,125,195,0.48)" stroke="#336a9e" stroke-width="1"/>
<circle cx="270.9" cy="315.1" r="2.6" fill="rgba(45,125,195,0.48)" stroke="#336a9e" stroke-width="1"/>
<circle cx="266.9" cy="326.1" r="3" fill="rgba(45,125,195,0.48)" stroke="#336a9e" stroke-width="1"/>
<circle cx="269.3" cy="333.6" r="2.6" fill="rgba(45,125,195,0.48)" stroke="#336a9e" stroke-width="1"/>
<circle cx="723.3" cy="187.2" r="2" fill="rgba(45,125,195,0.48)" stroke="#336a9e" stroke-width="1"/>
<circle cx="716.2" cy="188.2" r="1.6" fill="rgba(45,125,195,0.48)" stroke="#336a9e" stroke-width="1"/>
<circle cx="721.8" cy="182.1" r="1.6" fill="rgba(45,125,195,0.48)" stroke="#336a9e" stroke-width="1"/>
<circle cx="705" cy="202.6" r="2.2" fill="rgba(222,52,58,0.5)" stroke="#b44853" stroke-width="1"/>
<circle cx="695.1" cy="206.2" r="2" fill="rgba(45,125,195,0.48)" stroke="#336a9e" stroke-width="1"/>
<circle cx="646.7" cy="136.1" r="2" fill="rgba(45,125,195,0.48)" stroke="#336a9e" stroke-width="1"/>
<circle cx="929.1" cy="113.7" r="2.4" fill="rgba(45,125,195,0.48)" stroke="#336a9e" stroke-width="1"/>
<circle cx="952.2" cy="121.2" r="2.6" fill="rgba(45,125,195,0.48)" stroke="#336a9e" stroke-width="1"/>
<circle cx="954.6" cy="138.2" r="5" fill="rgba(45,125,195,0.48)" stroke="#336a9e" stroke-width="1"/>
<circle cx="959.6" cy="143.2" r="5" fill="rgba(45,125,195,0.48)" stroke="#336a9e" stroke-width="1"/>
<circle cx="952.6" cy="139.2" r="4" fill="rgba(45,125,195,0.48)" stroke="#336a9e" stroke-width="1"/>
<circle cx="956.6" cy="148.2" r="3" fill="rgba(45,125,195,0.48)" stroke="#336a9e" stroke-width="1"/>
<circle cx="955.6" cy="155.2" r="2.4" fill="rgba(45,125,195,0.48)" stroke="#336a9e" stroke-width="1"/>
<circle cx="968.3" cy="148.8" r="2.6" fill="rgba(45,125,195,0.48)" stroke="#336a9e" stroke-width="1"/>
<circle cx="961" cy="139" r="3.5" fill="rgba(45,125,195,0.48)" stroke="#336a9e" stroke-width="1"/>
<circle cx="957" cy="136" r="3" fill="rgba(45,125,195,0.48)" stroke="#336a9e" stroke-width="1"/>
<circle cx="889" cy="146.6" r="2.6" fill="rgba(45,125,195,0.48)" stroke="#336a9e" stroke-width="1"/>
<circle cx="864.7" cy="146.8" r="2.6" fill="rgba(45,125,195,0.48)" stroke="#336a9e" stroke-width="1"/>
<circle cx="849.8" cy="153.2" r="2" fill="rgba(45,125,195,0.48)" stroke="#336a9e" stroke-width="1"/>
<circle cx="906.8" cy="155.6" r="3" fill="rgba(45,125,195,0.48)" stroke="#336a9e" stroke-width="1"/>
<circle cx="938.2" cy="157.2" r="3" fill="rgba(45,125,195,0.48)" stroke="#336a9e" stroke-width="1"/>
<circle cx="932.5" cy="160.7" r="3.4" fill="rgba(45,125,195,0.48)" stroke="#336a9e" stroke-width="1"/>
<circle cx="947" cy="158.3" r="2.8" fill="rgba(45,125,195,0.48)" stroke="#336a9e" stroke-width="1"/>
<circle cx="938.6" cy="165.7" r="2.6" fill="rgba(45,125,195,0.48)" stroke="#336a9e" stroke-width="1"/>
<circle cx="932.9" cy="170.7" r="2.2" fill="rgba(45,125,195,0.48)" stroke="#336a9e" stroke-width="1"/>
<circle cx="930.5" cy="178.3" r="3.5" fill="rgba(45,125,195,0.48)" stroke="#336a9e" stroke-width="1"/>
<circle cx="927.5" cy="181.3" r="3" fill="rgba(45,125,195,0.48)" stroke="#336a9e" stroke-width="1"/>
<circle cx="928.5" cy="176.3" r="3" fill="rgba(45,125,195,0.48)" stroke="#336a9e" stroke-width="1"/>
<circle cx="926.5" cy="183.5" r="2.4" fill="rgba(45,125,195,0.48)" stroke="#336a9e" stroke-width="1"/>
<circle cx="924.5" cy="188.4" r="2.4" fill="rgba(45,125,195,0.48)" stroke="#336a9e" stroke-width="1"/>
<circle cx="919.7" cy="190.4" r="2.2" fill="rgba(45,125,195,0.48)" stroke="#336a9e" stroke-width="1"/>
<circle cx="892.4" cy="220.7" r="3" fill="rgba(45,125,195,0.48)" stroke="#336a9e" stroke-width="1"/>
<circle cx="891.8" cy="226.1" r="2.6" fill="rgba(45,125,195,0.48)" stroke="#336a9e" stroke-width="1"/>
<circle cx="895.6" cy="231.7" r="2" fill="rgba(45,125,195,0.48)" stroke="#336a9e" stroke-width="1"/>
<circle cx="906.8" cy="224.5" r="2.4" fill="rgba(222,52,58,0.5)" stroke="#b44853" stroke-width="1"/>
<circle cx="912" cy="220.1" r="3" fill="rgba(45,125,195,0.48)" stroke="#336a9e" stroke-width="1"/>
<circle cx="893.5" cy="218.5" r="2" fill="rgba(45,125,195,0.48)" stroke="#336a9e" stroke-width="1"/>
<circle cx="825.6" cy="317.1" r="2" fill="rgba(222,52,58,0.5)" stroke="#b44853" stroke-width="1"/>
<circle cx="794.1" cy="346.2" r="2" fill="rgba(45,125,195,0.48)" stroke="#336a9e" stroke-width="1"/>
<circle cx="626.9" cy="482.0" r="2.4" fill="none" stroke="#5a5a5a" stroke-width="2"/>
<circle cx="713" cy="477.4" r="6.8" fill="none" stroke="#5a5a5a" stroke-width="2"/>
<circle cx="813.1" cy="467.3" r="17" fill="none" stroke="#5a5a5a" stroke-width="2"/>
<circle cx="28" cy="374.8" r="10.8" fill="#9cc4e6" stroke="#2171b5" stroke-width="2.2"/>
<circle cx="28" cy="418.6" r="10.8" fill="#eea5a9" stroke="#d2353f" stroke-width="2.2"/>
</svg>
<div class="t">Total affected<br>funding, by<br>congressional<br>district</div>
<div class="lg" style="top:361.5px">Democratic</div>
<div class="lg" style="top:405.9px">Republican</div>
<div class="sc" style="left:595.4px">$1 mil.</div>
<div class="sc" style="left:679.4px">$100 mil.</div>
<div class="sc" style="left:786.7px">$1 bil.</div>
</body></html>
